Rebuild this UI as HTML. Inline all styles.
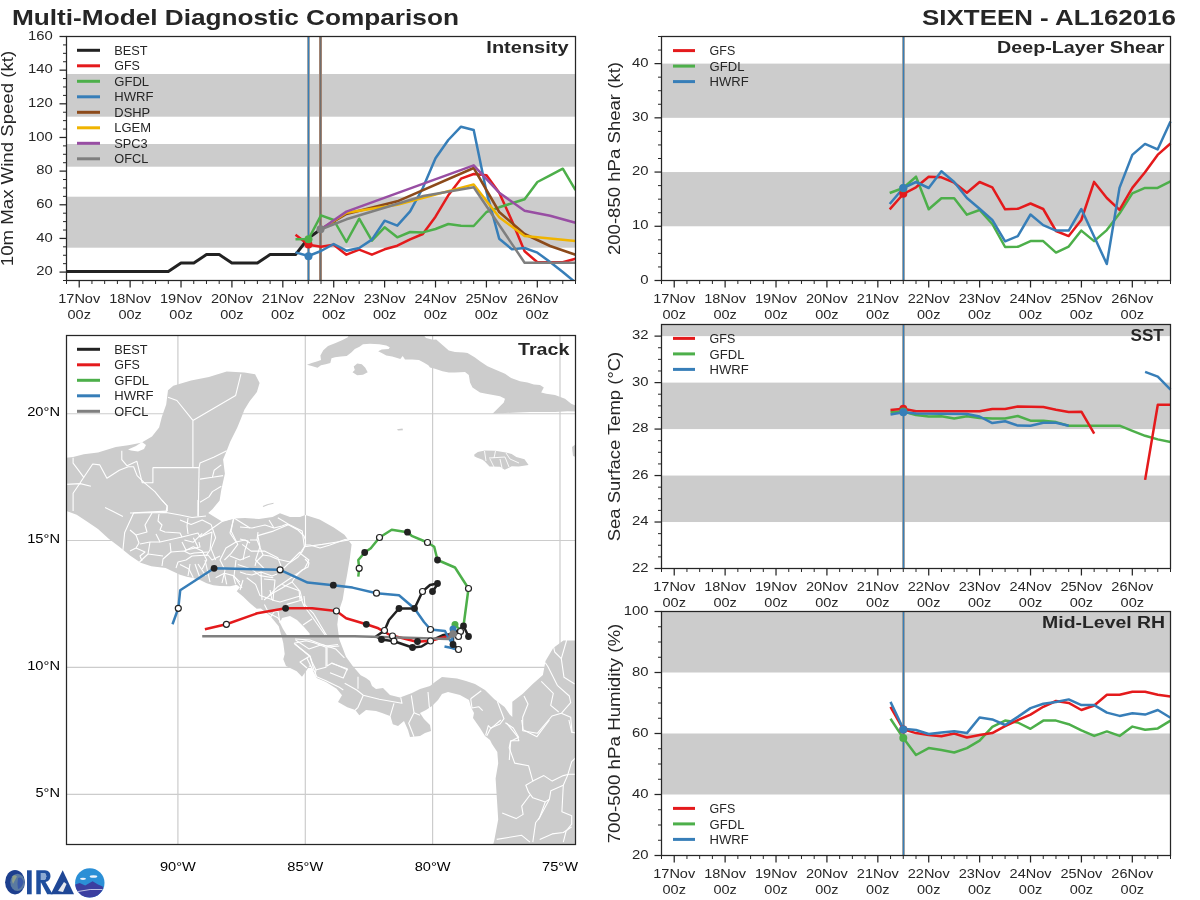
<!DOCTYPE html>
<html><head><meta charset="utf-8"><style>
html,body{margin:0;padding:0;background:#fff;width:1200px;height:900px;overflow:hidden}
svg{display:block;will-change:transform;font-family:"Liberation Sans",sans-serif}
</style></head><body>
<svg width="1200" height="900" viewBox="0 0 1200 900">
<rect width="1200" height="900" fill="#ffffff"/>
<rect x="66.50" y="74.00" width="509.00" height="42.70" fill="#cccccc"/>
<rect x="66.50" y="144.00" width="509.00" height="22.70" fill="#cccccc"/>
<rect x="66.50" y="196.70" width="509.00" height="51.00" fill="#cccccc"/>
<line x1="308.50" y1="36.50" x2="308.50" y2="280.50" stroke="#a89a8c" stroke-width="2.6"/>
<line x1="308.50" y1="36.50" x2="308.50" y2="280.50" stroke="#377eb8" stroke-width="1.4"/>
<line x1="320.50" y1="36.50" x2="320.50" y2="280.50" stroke="#a58574" stroke-width="3.0"/>
<line x1="320.50" y1="36.50" x2="320.50" y2="280.50" stroke="#6f6f6f" stroke-width="1.2"/>
<polyline points="66.5,271.4 168.3,271.4 181.0,263.0 193.8,263.0 206.5,254.6 219.2,254.6 231.9,263.0 244.6,263.0 257.4,263.0 270.1,254.6 282.8,254.6 295.5,254.6 308.5,238.0 320.5,229.5" fill="none" stroke="#222222" stroke-width="3.0" stroke-linejoin="round" stroke-linecap="butt"/>
<clipPath id="ci"><rect x="66.5" y="36.5" width="509" height="244.0"/></clipPath>
<g clip-path="url(#ci)">
<polyline points="295.5,234.7 308.5,244.7 321.0,246.7 333.7,244.7 346.4,254.7 359.2,249.7 371.9,254.7 384.6,249.3 397.3,245.7 410.1,239.3 422.8,234.0 435.5,216.7 448.3,195.3 461.0,178.7 473.7,174.0 486.5,175.3 499.2,192.7 511.9,220.7 524.6,251.3 537.4,262.3 550.1,262.3 562.8,262.3 575.5,258.7" fill="none" stroke="#e41a1c" stroke-width="2.5" stroke-linejoin="round" stroke-linecap="butt"/>
<polyline points="295.5,239.3 308.5,239.0 321.0,215.3 333.7,220.0 346.4,242.0 359.2,218.7 371.9,240.7 384.6,227.3 397.3,237.3 410.1,232.0 422.8,232.4 435.5,229.0 448.3,224.0 461.0,225.7 473.7,226.0 486.5,212.0 499.2,207.3 511.9,203.3 524.6,199.3 537.4,182.0 550.1,175.3 562.8,168.7 575.5,190.0" fill="none" stroke="#4daf4a" stroke-width="2.5" stroke-linejoin="round" stroke-linecap="butt"/>
<polyline points="295.5,252.4 308.5,256.0 321.0,251.0 333.7,244.0 346.4,250.7 359.2,248.0 371.9,239.6 384.6,220.7 397.3,225.7 410.1,211.3 422.8,188.0 435.5,158.3 448.3,140.0 461.0,126.7 473.7,130.0 486.5,192.0 499.2,238.7 511.9,249.3 524.6,248.0 537.4,252.7 550.1,262.0 562.8,272.0 575.5,282.5" fill="none" stroke="#377eb8" stroke-width="2.5" stroke-linejoin="round" stroke-linecap="butt"/>
<polyline points="320.5,229.5 346.4,214.0 397.3,201.3 473.7,168.0 499.2,212.0 524.6,234.0 550.1,246.0 575.5,254.7" fill="none" stroke="#8c4a1a" stroke-width="2.5" stroke-linejoin="round" stroke-linecap="butt"/>
<polyline points="320.5,229.5 346.4,212.7 397.3,204.7 473.7,184.4 499.2,217.3 524.6,236.0 575.5,241.0" fill="none" stroke="#f0b400" stroke-width="2.5" stroke-linejoin="round" stroke-linecap="butt"/>
<polyline points="320.5,229.5 346.4,211.6 473.7,165.3 499.2,192.7 524.6,210.7 550.1,215.8 575.5,222.7" fill="none" stroke="#984ea3" stroke-width="2.5" stroke-linejoin="round" stroke-linecap="butt"/>
<polyline points="320.5,229.5 346.4,219.3 423.3,196.0 473.7,187.3 524.6,262.7 575.5,262.7" fill="none" stroke="#7f7f7f" stroke-width="2.5" stroke-linejoin="round" stroke-linecap="butt"/>
</g>
<circle cx="308.50" cy="244.60" r="4" fill="#e41a1c" stroke="none" stroke-width="0"/>
<circle cx="308.50" cy="239.30" r="4" fill="#4daf4a" stroke="none" stroke-width="0"/>
<circle cx="308.50" cy="256.30" r="4" fill="#377eb8" stroke="none" stroke-width="0"/>
<circle cx="320.50" cy="229.30" r="4" fill="#7f7f7f" stroke="none" stroke-width="0"/>
<line x1="77.00" y1="50.30" x2="100.00" y2="50.30" stroke="#222222" stroke-width="3"/>
<text x="114.30" y="54.90" font-size="13" text-anchor="start" textLength="33.3" lengthAdjust="spacingAndGlyphs" fill="#262626">BEST</text>
<line x1="77.00" y1="65.80" x2="100.00" y2="65.80" stroke="#e41a1c" stroke-width="3"/>
<text x="114.30" y="70.40" font-size="13" text-anchor="start" textLength="25.6" lengthAdjust="spacingAndGlyphs" fill="#262626">GFS</text>
<line x1="77.00" y1="81.30" x2="100.00" y2="81.30" stroke="#4daf4a" stroke-width="3"/>
<text x="114.30" y="85.90" font-size="13" text-anchor="start" textLength="34.8" lengthAdjust="spacingAndGlyphs" fill="#262626">GFDL</text>
<line x1="77.00" y1="96.80" x2="100.00" y2="96.80" stroke="#377eb8" stroke-width="3"/>
<text x="114.30" y="101.40" font-size="13" text-anchor="start" textLength="39.2" lengthAdjust="spacingAndGlyphs" fill="#262626">HWRF</text>
<line x1="77.00" y1="112.30" x2="100.00" y2="112.30" stroke="#8c4a1a" stroke-width="3"/>
<text x="114.30" y="116.90" font-size="13" text-anchor="start" textLength="35.9" lengthAdjust="spacingAndGlyphs" fill="#262626">DSHP</text>
<line x1="77.00" y1="127.80" x2="100.00" y2="127.80" stroke="#f0b400" stroke-width="3"/>
<text x="114.30" y="132.40" font-size="13" text-anchor="start" textLength="36.8" lengthAdjust="spacingAndGlyphs" fill="#262626">LGEM</text>
<line x1="77.00" y1="143.30" x2="100.00" y2="143.30" stroke="#984ea3" stroke-width="3"/>
<text x="114.30" y="147.90" font-size="13" text-anchor="start" textLength="33.4" lengthAdjust="spacingAndGlyphs" fill="#262626">SPC3</text>
<line x1="77.00" y1="158.80" x2="100.00" y2="158.80" stroke="#7f7f7f" stroke-width="3"/>
<text x="114.30" y="163.40" font-size="13" text-anchor="start" textLength="34.0" lengthAdjust="spacingAndGlyphs" fill="#262626">OFCL</text>
<text x="568.55" y="53.10" font-size="16" text-anchor="end" font-weight="bold" textLength="82.2" lengthAdjust="spacingAndGlyphs" fill="#262626">Intensity</text>
<rect x="66.5" y="36.5" width="509.0" height="244.0" fill="none" stroke="#262626" stroke-width="1.25"/>
<line x1="59.50" y1="272.09" x2="66.50" y2="272.09" stroke="#262626" stroke-width="1.25"/>
<text x="52.80" y="275.19" font-size="13" text-anchor="end" textLength="16.5" lengthAdjust="spacingAndGlyphs" fill="#262626">20</text>
<line x1="59.50" y1="238.43" x2="66.50" y2="238.43" stroke="#262626" stroke-width="1.25"/>
<text x="52.80" y="241.53" font-size="13" text-anchor="end" textLength="16.5" lengthAdjust="spacingAndGlyphs" fill="#262626">40</text>
<line x1="59.50" y1="204.78" x2="66.50" y2="204.78" stroke="#262626" stroke-width="1.25"/>
<text x="52.80" y="207.88" font-size="13" text-anchor="end" textLength="16.5" lengthAdjust="spacingAndGlyphs" fill="#262626">60</text>
<line x1="59.50" y1="171.12" x2="66.50" y2="171.12" stroke="#262626" stroke-width="1.25"/>
<text x="52.80" y="174.22" font-size="13" text-anchor="end" textLength="16.5" lengthAdjust="spacingAndGlyphs" fill="#262626">80</text>
<line x1="59.50" y1="137.47" x2="66.50" y2="137.47" stroke="#262626" stroke-width="1.25"/>
<text x="52.80" y="140.57" font-size="13" text-anchor="end" textLength="24.8" lengthAdjust="spacingAndGlyphs" fill="#262626">100</text>
<line x1="59.50" y1="103.81" x2="66.50" y2="103.81" stroke="#262626" stroke-width="1.25"/>
<text x="52.80" y="106.91" font-size="13" text-anchor="end" textLength="24.8" lengthAdjust="spacingAndGlyphs" fill="#262626">120</text>
<line x1="59.50" y1="70.16" x2="66.50" y2="70.16" stroke="#262626" stroke-width="1.25"/>
<text x="52.80" y="73.26" font-size="13" text-anchor="end" textLength="24.8" lengthAdjust="spacingAndGlyphs" fill="#262626">140</text>
<line x1="59.50" y1="36.50" x2="66.50" y2="36.50" stroke="#262626" stroke-width="1.25"/>
<text x="52.80" y="39.60" font-size="13" text-anchor="end" textLength="24.8" lengthAdjust="spacingAndGlyphs" fill="#262626">160</text>
<line x1="63.00" y1="280.50" x2="66.50" y2="280.50" stroke="#262626" stroke-width="1.0"/>
<line x1="63.00" y1="263.67" x2="66.50" y2="263.67" stroke="#262626" stroke-width="1.0"/>
<line x1="63.00" y1="255.26" x2="66.50" y2="255.26" stroke="#262626" stroke-width="1.0"/>
<line x1="63.00" y1="246.84" x2="66.50" y2="246.84" stroke="#262626" stroke-width="1.0"/>
<line x1="63.00" y1="230.02" x2="66.50" y2="230.02" stroke="#262626" stroke-width="1.0"/>
<line x1="63.00" y1="221.60" x2="66.50" y2="221.60" stroke="#262626" stroke-width="1.0"/>
<line x1="63.00" y1="213.19" x2="66.50" y2="213.19" stroke="#262626" stroke-width="1.0"/>
<line x1="63.00" y1="196.36" x2="66.50" y2="196.36" stroke="#262626" stroke-width="1.0"/>
<line x1="63.00" y1="187.95" x2="66.50" y2="187.95" stroke="#262626" stroke-width="1.0"/>
<line x1="63.00" y1="179.53" x2="66.50" y2="179.53" stroke="#262626" stroke-width="1.0"/>
<line x1="63.00" y1="162.71" x2="66.50" y2="162.71" stroke="#262626" stroke-width="1.0"/>
<line x1="63.00" y1="154.29" x2="66.50" y2="154.29" stroke="#262626" stroke-width="1.0"/>
<line x1="63.00" y1="145.88" x2="66.50" y2="145.88" stroke="#262626" stroke-width="1.0"/>
<line x1="63.00" y1="129.05" x2="66.50" y2="129.05" stroke="#262626" stroke-width="1.0"/>
<line x1="63.00" y1="120.64" x2="66.50" y2="120.64" stroke="#262626" stroke-width="1.0"/>
<line x1="63.00" y1="112.22" x2="66.50" y2="112.22" stroke="#262626" stroke-width="1.0"/>
<line x1="63.00" y1="95.40" x2="66.50" y2="95.40" stroke="#262626" stroke-width="1.0"/>
<line x1="63.00" y1="86.98" x2="66.50" y2="86.98" stroke="#262626" stroke-width="1.0"/>
<line x1="63.00" y1="78.57" x2="66.50" y2="78.57" stroke="#262626" stroke-width="1.0"/>
<line x1="63.00" y1="61.74" x2="66.50" y2="61.74" stroke="#262626" stroke-width="1.0"/>
<line x1="63.00" y1="53.33" x2="66.50" y2="53.33" stroke="#262626" stroke-width="1.0"/>
<line x1="63.00" y1="44.91" x2="66.50" y2="44.91" stroke="#262626" stroke-width="1.0"/>
<line x1="66.50" y1="280.50" x2="66.50" y2="284.00" stroke="#262626" stroke-width="1.0"/>
<line x1="79.22" y1="280.50" x2="79.22" y2="287.50" stroke="#262626" stroke-width="1.25"/>
<line x1="91.95" y1="280.50" x2="91.95" y2="284.00" stroke="#262626" stroke-width="1.0"/>
<line x1="104.67" y1="280.50" x2="104.67" y2="284.00" stroke="#262626" stroke-width="1.0"/>
<line x1="117.40" y1="280.50" x2="117.40" y2="284.00" stroke="#262626" stroke-width="1.0"/>
<line x1="130.12" y1="280.50" x2="130.12" y2="287.50" stroke="#262626" stroke-width="1.25"/>
<line x1="142.85" y1="280.50" x2="142.85" y2="284.00" stroke="#262626" stroke-width="1.0"/>
<line x1="155.57" y1="280.50" x2="155.57" y2="284.00" stroke="#262626" stroke-width="1.0"/>
<line x1="168.30" y1="280.50" x2="168.30" y2="284.00" stroke="#262626" stroke-width="1.0"/>
<line x1="181.02" y1="280.50" x2="181.02" y2="287.50" stroke="#262626" stroke-width="1.25"/>
<line x1="193.75" y1="280.50" x2="193.75" y2="284.00" stroke="#262626" stroke-width="1.0"/>
<line x1="206.47" y1="280.50" x2="206.47" y2="284.00" stroke="#262626" stroke-width="1.0"/>
<line x1="219.20" y1="280.50" x2="219.20" y2="284.00" stroke="#262626" stroke-width="1.0"/>
<line x1="231.92" y1="280.50" x2="231.92" y2="287.50" stroke="#262626" stroke-width="1.25"/>
<line x1="244.65" y1="280.50" x2="244.65" y2="284.00" stroke="#262626" stroke-width="1.0"/>
<line x1="257.38" y1="280.50" x2="257.38" y2="284.00" stroke="#262626" stroke-width="1.0"/>
<line x1="270.10" y1="280.50" x2="270.10" y2="284.00" stroke="#262626" stroke-width="1.0"/>
<line x1="282.82" y1="280.50" x2="282.82" y2="287.50" stroke="#262626" stroke-width="1.25"/>
<line x1="295.55" y1="280.50" x2="295.55" y2="284.00" stroke="#262626" stroke-width="1.0"/>
<line x1="308.27" y1="280.50" x2="308.27" y2="284.00" stroke="#262626" stroke-width="1.0"/>
<line x1="321.00" y1="280.50" x2="321.00" y2="284.00" stroke="#262626" stroke-width="1.0"/>
<line x1="333.72" y1="280.50" x2="333.72" y2="287.50" stroke="#262626" stroke-width="1.25"/>
<line x1="346.45" y1="280.50" x2="346.45" y2="284.00" stroke="#262626" stroke-width="1.0"/>
<line x1="359.17" y1="280.50" x2="359.17" y2="284.00" stroke="#262626" stroke-width="1.0"/>
<line x1="371.90" y1="280.50" x2="371.90" y2="284.00" stroke="#262626" stroke-width="1.0"/>
<line x1="384.62" y1="280.50" x2="384.62" y2="287.50" stroke="#262626" stroke-width="1.25"/>
<line x1="397.35" y1="280.50" x2="397.35" y2="284.00" stroke="#262626" stroke-width="1.0"/>
<line x1="410.07" y1="280.50" x2="410.07" y2="284.00" stroke="#262626" stroke-width="1.0"/>
<line x1="422.80" y1="280.50" x2="422.80" y2="284.00" stroke="#262626" stroke-width="1.0"/>
<line x1="435.52" y1="280.50" x2="435.52" y2="287.50" stroke="#262626" stroke-width="1.25"/>
<line x1="448.25" y1="280.50" x2="448.25" y2="284.00" stroke="#262626" stroke-width="1.0"/>
<line x1="460.97" y1="280.50" x2="460.97" y2="284.00" stroke="#262626" stroke-width="1.0"/>
<line x1="473.70" y1="280.50" x2="473.70" y2="284.00" stroke="#262626" stroke-width="1.0"/>
<line x1="486.42" y1="280.50" x2="486.42" y2="287.50" stroke="#262626" stroke-width="1.25"/>
<line x1="499.15" y1="280.50" x2="499.15" y2="284.00" stroke="#262626" stroke-width="1.0"/>
<line x1="511.87" y1="280.50" x2="511.87" y2="284.00" stroke="#262626" stroke-width="1.0"/>
<line x1="524.60" y1="280.50" x2="524.60" y2="284.00" stroke="#262626" stroke-width="1.0"/>
<line x1="537.32" y1="280.50" x2="537.32" y2="287.50" stroke="#262626" stroke-width="1.25"/>
<line x1="550.05" y1="280.50" x2="550.05" y2="284.00" stroke="#262626" stroke-width="1.0"/>
<line x1="562.77" y1="280.50" x2="562.77" y2="284.00" stroke="#262626" stroke-width="1.0"/>
<line x1="575.50" y1="280.50" x2="575.50" y2="284.00" stroke="#262626" stroke-width="1.0"/>
<text x="79.22" y="303.10" font-size="13" text-anchor="middle" textLength="41.9" lengthAdjust="spacingAndGlyphs" fill="#262626">17Nov</text>
<text x="79.22" y="319.10" font-size="13" text-anchor="middle" textLength="23.4" lengthAdjust="spacingAndGlyphs" fill="#262626">00z</text>
<text x="130.12" y="303.10" font-size="13" text-anchor="middle" textLength="41.9" lengthAdjust="spacingAndGlyphs" fill="#262626">18Nov</text>
<text x="130.12" y="319.10" font-size="13" text-anchor="middle" textLength="23.4" lengthAdjust="spacingAndGlyphs" fill="#262626">00z</text>
<text x="181.02" y="303.10" font-size="13" text-anchor="middle" textLength="41.9" lengthAdjust="spacingAndGlyphs" fill="#262626">19Nov</text>
<text x="181.02" y="319.10" font-size="13" text-anchor="middle" textLength="23.4" lengthAdjust="spacingAndGlyphs" fill="#262626">00z</text>
<text x="231.92" y="303.10" font-size="13" text-anchor="middle" textLength="41.9" lengthAdjust="spacingAndGlyphs" fill="#262626">20Nov</text>
<text x="231.92" y="319.10" font-size="13" text-anchor="middle" textLength="23.4" lengthAdjust="spacingAndGlyphs" fill="#262626">00z</text>
<text x="282.82" y="303.10" font-size="13" text-anchor="middle" textLength="41.9" lengthAdjust="spacingAndGlyphs" fill="#262626">21Nov</text>
<text x="282.82" y="319.10" font-size="13" text-anchor="middle" textLength="23.4" lengthAdjust="spacingAndGlyphs" fill="#262626">00z</text>
<text x="333.72" y="303.10" font-size="13" text-anchor="middle" textLength="41.9" lengthAdjust="spacingAndGlyphs" fill="#262626">22Nov</text>
<text x="333.72" y="319.10" font-size="13" text-anchor="middle" textLength="23.4" lengthAdjust="spacingAndGlyphs" fill="#262626">00z</text>
<text x="384.62" y="303.10" font-size="13" text-anchor="middle" textLength="41.9" lengthAdjust="spacingAndGlyphs" fill="#262626">23Nov</text>
<text x="384.62" y="319.10" font-size="13" text-anchor="middle" textLength="23.4" lengthAdjust="spacingAndGlyphs" fill="#262626">00z</text>
<text x="435.52" y="303.10" font-size="13" text-anchor="middle" textLength="41.9" lengthAdjust="spacingAndGlyphs" fill="#262626">24Nov</text>
<text x="435.52" y="319.10" font-size="13" text-anchor="middle" textLength="23.4" lengthAdjust="spacingAndGlyphs" fill="#262626">00z</text>
<text x="486.42" y="303.10" font-size="13" text-anchor="middle" textLength="41.9" lengthAdjust="spacingAndGlyphs" fill="#262626">25Nov</text>
<text x="486.42" y="319.10" font-size="13" text-anchor="middle" textLength="23.4" lengthAdjust="spacingAndGlyphs" fill="#262626">00z</text>
<text x="537.32" y="303.10" font-size="13" text-anchor="middle" textLength="41.9" lengthAdjust="spacingAndGlyphs" fill="#262626">26Nov</text>
<text x="537.32" y="319.10" font-size="13" text-anchor="middle" textLength="23.4" lengthAdjust="spacingAndGlyphs" fill="#262626">00z</text>
<text x="13.30" y="158.50" font-size="17" text-anchor="middle" textLength="215.3" lengthAdjust="spacingAndGlyphs" transform="rotate(-90 13.30 158.50)" fill="#262626">10m Max Wind Speed (kt)</text>
<rect x="661.50" y="63.61" width="509.00" height="54.22" fill="#cccccc"/>
<rect x="661.50" y="172.06" width="509.00" height="54.22" fill="#cccccc"/>
<line x1="903.50" y1="36.50" x2="903.50" y2="280.50" stroke="#a89a8c" stroke-width="2.6"/>
<line x1="903.50" y1="36.50" x2="903.50" y2="280.50" stroke="#377eb8" stroke-width="1.4"/>
<polyline points="889.7,193.0 903.3,188.0 916.0,176.7 928.7,209.3 941.4,198.3 954.2,198.3 966.9,214.7 979.6,210.0 992.3,224.0 1005.1,247.0 1017.8,246.8 1030.5,241.1 1043.2,241.1 1056.0,252.6 1068.7,246.6 1081.3,230.6 1094.1,241.1 1106.8,230.1 1119.5,213.6 1132.3,193.4 1145.0,187.9 1157.6,187.9 1170.5,181.3" fill="none" stroke="#4daf4a" stroke-width="2.5" stroke-linejoin="round" stroke-linecap="butt"/>
<polyline points="889.7,209.3 903.3,194.0 916.0,187.3 928.7,176.7 941.4,177.3 954.2,182.7 966.9,192.7 979.6,182.0 992.3,187.3 1005.1,209.3 1017.8,208.8 1030.5,203.5 1043.2,209.0 1056.0,231.0 1068.7,236.1 1081.3,220.0 1094.1,181.9 1106.8,198.0 1119.5,209.9 1132.3,187.9 1145.0,172.3 1157.6,154.9 1170.5,143.5" fill="none" stroke="#e41a1c" stroke-width="2.5" stroke-linejoin="round" stroke-linecap="butt"/>
<polyline points="889.7,204.0 903.3,188.0 916.0,182.0 928.7,188.0 941.4,171.3 954.2,182.0 966.9,198.0 979.6,208.7 992.3,220.0 1005.1,241.3 1017.8,236.1 1030.5,214.5 1043.2,225.1 1056.0,230.6 1068.7,230.6 1081.3,209.0 1094.1,236.5 1106.8,264.0 1119.5,187.9 1132.3,154.9 1145.0,143.9 1157.6,149.4 1170.5,121.5" fill="none" stroke="#377eb8" stroke-width="2.5" stroke-linejoin="round" stroke-linecap="butt"/>
<circle cx="903.30" cy="193.80" r="4" fill="#e41a1c" stroke="none" stroke-width="0"/>
<circle cx="903.30" cy="188.30" r="4" fill="#4daf4a" stroke="none" stroke-width="0"/>
<circle cx="903.30" cy="188.00" r="4" fill="#377eb8" stroke="none" stroke-width="0"/>
<line x1="673.00" y1="50.60" x2="695.00" y2="50.60" stroke="#e41a1c" stroke-width="3"/>
<text x="709.60" y="55.20" font-size="13" text-anchor="start" textLength="25.6" lengthAdjust="spacingAndGlyphs" fill="#262626">GFS</text>
<line x1="673.00" y1="66.10" x2="695.00" y2="66.10" stroke="#4daf4a" stroke-width="3"/>
<text x="709.60" y="70.70" font-size="13" text-anchor="start" textLength="34.8" lengthAdjust="spacingAndGlyphs" fill="#262626">GFDL</text>
<line x1="673.00" y1="81.60" x2="695.00" y2="81.60" stroke="#377eb8" stroke-width="3"/>
<text x="709.60" y="86.20" font-size="13" text-anchor="start" textLength="39.2" lengthAdjust="spacingAndGlyphs" fill="#262626">HWRF</text>
<text x="1164.50" y="53.10" font-size="16" text-anchor="end" font-weight="bold" textLength="167.4" lengthAdjust="spacingAndGlyphs" fill="#262626">Deep-Layer Shear</text>
<rect x="661.5" y="36.5" width="509.0" height="244.0" fill="none" stroke="#262626" stroke-width="1.25"/>
<line x1="654.50" y1="280.50" x2="661.50" y2="280.50" stroke="#262626" stroke-width="1.25"/>
<text x="648.60" y="283.60" font-size="13" text-anchor="end" textLength="8.3" lengthAdjust="spacingAndGlyphs" fill="#262626">0</text>
<line x1="654.50" y1="226.28" x2="661.50" y2="226.28" stroke="#262626" stroke-width="1.25"/>
<text x="648.60" y="229.38" font-size="13" text-anchor="end" textLength="16.5" lengthAdjust="spacingAndGlyphs" fill="#262626">10</text>
<line x1="654.50" y1="172.06" x2="661.50" y2="172.06" stroke="#262626" stroke-width="1.25"/>
<text x="648.60" y="175.16" font-size="13" text-anchor="end" textLength="16.5" lengthAdjust="spacingAndGlyphs" fill="#262626">20</text>
<line x1="654.50" y1="117.83" x2="661.50" y2="117.83" stroke="#262626" stroke-width="1.25"/>
<text x="648.60" y="120.93" font-size="13" text-anchor="end" textLength="16.5" lengthAdjust="spacingAndGlyphs" fill="#262626">30</text>
<line x1="654.50" y1="63.61" x2="661.50" y2="63.61" stroke="#262626" stroke-width="1.25"/>
<text x="648.60" y="66.71" font-size="13" text-anchor="end" textLength="16.5" lengthAdjust="spacingAndGlyphs" fill="#262626">40</text>
<line x1="658.00" y1="266.94" x2="661.50" y2="266.94" stroke="#262626" stroke-width="1.0"/>
<line x1="658.00" y1="253.39" x2="661.50" y2="253.39" stroke="#262626" stroke-width="1.0"/>
<line x1="658.00" y1="239.83" x2="661.50" y2="239.83" stroke="#262626" stroke-width="1.0"/>
<line x1="658.00" y1="212.72" x2="661.50" y2="212.72" stroke="#262626" stroke-width="1.0"/>
<line x1="658.00" y1="199.17" x2="661.50" y2="199.17" stroke="#262626" stroke-width="1.0"/>
<line x1="658.00" y1="185.61" x2="661.50" y2="185.61" stroke="#262626" stroke-width="1.0"/>
<line x1="658.00" y1="158.50" x2="661.50" y2="158.50" stroke="#262626" stroke-width="1.0"/>
<line x1="658.00" y1="144.94" x2="661.50" y2="144.94" stroke="#262626" stroke-width="1.0"/>
<line x1="658.00" y1="131.39" x2="661.50" y2="131.39" stroke="#262626" stroke-width="1.0"/>
<line x1="658.00" y1="104.28" x2="661.50" y2="104.28" stroke="#262626" stroke-width="1.0"/>
<line x1="658.00" y1="90.72" x2="661.50" y2="90.72" stroke="#262626" stroke-width="1.0"/>
<line x1="658.00" y1="77.17" x2="661.50" y2="77.17" stroke="#262626" stroke-width="1.0"/>
<line x1="658.00" y1="50.06" x2="661.50" y2="50.06" stroke="#262626" stroke-width="1.0"/>
<line x1="658.00" y1="36.50" x2="661.50" y2="36.50" stroke="#262626" stroke-width="1.0"/>
<line x1="661.50" y1="280.50" x2="661.50" y2="284.00" stroke="#262626" stroke-width="1.0"/>
<line x1="674.23" y1="280.50" x2="674.23" y2="287.50" stroke="#262626" stroke-width="1.25"/>
<line x1="686.95" y1="280.50" x2="686.95" y2="284.00" stroke="#262626" stroke-width="1.0"/>
<line x1="699.67" y1="280.50" x2="699.67" y2="284.00" stroke="#262626" stroke-width="1.0"/>
<line x1="712.40" y1="280.50" x2="712.40" y2="284.00" stroke="#262626" stroke-width="1.0"/>
<line x1="725.12" y1="280.50" x2="725.12" y2="287.50" stroke="#262626" stroke-width="1.25"/>
<line x1="737.85" y1="280.50" x2="737.85" y2="284.00" stroke="#262626" stroke-width="1.0"/>
<line x1="750.58" y1="280.50" x2="750.58" y2="284.00" stroke="#262626" stroke-width="1.0"/>
<line x1="763.30" y1="280.50" x2="763.30" y2="284.00" stroke="#262626" stroke-width="1.0"/>
<line x1="776.02" y1="280.50" x2="776.02" y2="287.50" stroke="#262626" stroke-width="1.25"/>
<line x1="788.75" y1="280.50" x2="788.75" y2="284.00" stroke="#262626" stroke-width="1.0"/>
<line x1="801.48" y1="280.50" x2="801.48" y2="284.00" stroke="#262626" stroke-width="1.0"/>
<line x1="814.20" y1="280.50" x2="814.20" y2="284.00" stroke="#262626" stroke-width="1.0"/>
<line x1="826.92" y1="280.50" x2="826.92" y2="287.50" stroke="#262626" stroke-width="1.25"/>
<line x1="839.65" y1="280.50" x2="839.65" y2="284.00" stroke="#262626" stroke-width="1.0"/>
<line x1="852.38" y1="280.50" x2="852.38" y2="284.00" stroke="#262626" stroke-width="1.0"/>
<line x1="865.10" y1="280.50" x2="865.10" y2="284.00" stroke="#262626" stroke-width="1.0"/>
<line x1="877.83" y1="280.50" x2="877.83" y2="287.50" stroke="#262626" stroke-width="1.25"/>
<line x1="890.55" y1="280.50" x2="890.55" y2="284.00" stroke="#262626" stroke-width="1.0"/>
<line x1="903.27" y1="280.50" x2="903.27" y2="284.00" stroke="#262626" stroke-width="1.0"/>
<line x1="916.00" y1="280.50" x2="916.00" y2="284.00" stroke="#262626" stroke-width="1.0"/>
<line x1="928.72" y1="280.50" x2="928.72" y2="287.50" stroke="#262626" stroke-width="1.25"/>
<line x1="941.45" y1="280.50" x2="941.45" y2="284.00" stroke="#262626" stroke-width="1.0"/>
<line x1="954.17" y1="280.50" x2="954.17" y2="284.00" stroke="#262626" stroke-width="1.0"/>
<line x1="966.90" y1="280.50" x2="966.90" y2="284.00" stroke="#262626" stroke-width="1.0"/>
<line x1="979.62" y1="280.50" x2="979.62" y2="287.50" stroke="#262626" stroke-width="1.25"/>
<line x1="992.35" y1="280.50" x2="992.35" y2="284.00" stroke="#262626" stroke-width="1.0"/>
<line x1="1005.08" y1="280.50" x2="1005.08" y2="284.00" stroke="#262626" stroke-width="1.0"/>
<line x1="1017.80" y1="280.50" x2="1017.80" y2="284.00" stroke="#262626" stroke-width="1.0"/>
<line x1="1030.53" y1="280.50" x2="1030.53" y2="287.50" stroke="#262626" stroke-width="1.25"/>
<line x1="1043.25" y1="280.50" x2="1043.25" y2="284.00" stroke="#262626" stroke-width="1.0"/>
<line x1="1055.97" y1="280.50" x2="1055.97" y2="284.00" stroke="#262626" stroke-width="1.0"/>
<line x1="1068.70" y1="280.50" x2="1068.70" y2="284.00" stroke="#262626" stroke-width="1.0"/>
<line x1="1081.42" y1="280.50" x2="1081.42" y2="287.50" stroke="#262626" stroke-width="1.25"/>
<line x1="1094.15" y1="280.50" x2="1094.15" y2="284.00" stroke="#262626" stroke-width="1.0"/>
<line x1="1106.88" y1="280.50" x2="1106.88" y2="284.00" stroke="#262626" stroke-width="1.0"/>
<line x1="1119.60" y1="280.50" x2="1119.60" y2="284.00" stroke="#262626" stroke-width="1.0"/>
<line x1="1132.32" y1="280.50" x2="1132.32" y2="287.50" stroke="#262626" stroke-width="1.25"/>
<line x1="1145.05" y1="280.50" x2="1145.05" y2="284.00" stroke="#262626" stroke-width="1.0"/>
<line x1="1157.78" y1="280.50" x2="1157.78" y2="284.00" stroke="#262626" stroke-width="1.0"/>
<line x1="1170.50" y1="280.50" x2="1170.50" y2="284.00" stroke="#262626" stroke-width="1.0"/>
<text x="674.23" y="303.10" font-size="13" text-anchor="middle" textLength="41.9" lengthAdjust="spacingAndGlyphs" fill="#262626">17Nov</text>
<text x="674.23" y="319.10" font-size="13" text-anchor="middle" textLength="23.4" lengthAdjust="spacingAndGlyphs" fill="#262626">00z</text>
<text x="725.12" y="303.10" font-size="13" text-anchor="middle" textLength="41.9" lengthAdjust="spacingAndGlyphs" fill="#262626">18Nov</text>
<text x="725.12" y="319.10" font-size="13" text-anchor="middle" textLength="23.4" lengthAdjust="spacingAndGlyphs" fill="#262626">00z</text>
<text x="776.02" y="303.10" font-size="13" text-anchor="middle" textLength="41.9" lengthAdjust="spacingAndGlyphs" fill="#262626">19Nov</text>
<text x="776.02" y="319.10" font-size="13" text-anchor="middle" textLength="23.4" lengthAdjust="spacingAndGlyphs" fill="#262626">00z</text>
<text x="826.92" y="303.10" font-size="13" text-anchor="middle" textLength="41.9" lengthAdjust="spacingAndGlyphs" fill="#262626">20Nov</text>
<text x="826.92" y="319.10" font-size="13" text-anchor="middle" textLength="23.4" lengthAdjust="spacingAndGlyphs" fill="#262626">00z</text>
<text x="877.83" y="303.10" font-size="13" text-anchor="middle" textLength="41.9" lengthAdjust="spacingAndGlyphs" fill="#262626">21Nov</text>
<text x="877.83" y="319.10" font-size="13" text-anchor="middle" textLength="23.4" lengthAdjust="spacingAndGlyphs" fill="#262626">00z</text>
<text x="928.72" y="303.10" font-size="13" text-anchor="middle" textLength="41.9" lengthAdjust="spacingAndGlyphs" fill="#262626">22Nov</text>
<text x="928.72" y="319.10" font-size="13" text-anchor="middle" textLength="23.4" lengthAdjust="spacingAndGlyphs" fill="#262626">00z</text>
<text x="979.62" y="303.10" font-size="13" text-anchor="middle" textLength="41.9" lengthAdjust="spacingAndGlyphs" fill="#262626">23Nov</text>
<text x="979.62" y="319.10" font-size="13" text-anchor="middle" textLength="23.4" lengthAdjust="spacingAndGlyphs" fill="#262626">00z</text>
<text x="1030.53" y="303.10" font-size="13" text-anchor="middle" textLength="41.9" lengthAdjust="spacingAndGlyphs" fill="#262626">24Nov</text>
<text x="1030.53" y="319.10" font-size="13" text-anchor="middle" textLength="23.4" lengthAdjust="spacingAndGlyphs" fill="#262626">00z</text>
<text x="1081.42" y="303.10" font-size="13" text-anchor="middle" textLength="41.9" lengthAdjust="spacingAndGlyphs" fill="#262626">25Nov</text>
<text x="1081.42" y="319.10" font-size="13" text-anchor="middle" textLength="23.4" lengthAdjust="spacingAndGlyphs" fill="#262626">00z</text>
<text x="1132.32" y="303.10" font-size="13" text-anchor="middle" textLength="41.9" lengthAdjust="spacingAndGlyphs" fill="#262626">26Nov</text>
<text x="1132.32" y="319.10" font-size="13" text-anchor="middle" textLength="23.4" lengthAdjust="spacingAndGlyphs" fill="#262626">00z</text>
<text x="620.20" y="158.50" font-size="17" text-anchor="middle" textLength="193.1" lengthAdjust="spacingAndGlyphs" transform="rotate(-90 620.20 158.50)" fill="#262626">200-850 hPa Shear (kt)</text>
<rect x="661.50" y="324.50" width="509.00" height="11.62" fill="#cccccc"/>
<rect x="661.50" y="382.60" width="509.00" height="46.48" fill="#cccccc"/>
<rect x="661.50" y="475.55" width="509.00" height="46.48" fill="#cccccc"/>
<line x1="903.50" y1="324.50" x2="903.50" y2="568.50" stroke="#a89a8c" stroke-width="2.6"/>
<line x1="903.50" y1="324.50" x2="903.50" y2="568.50" stroke="#377eb8" stroke-width="1.4"/>
<polyline points="890.5,411.9 903.3,411.5 916.0,415.0 928.7,416.5 941.4,416.2 954.2,418.5 966.9,416.2 979.6,418.1 992.3,418.5 1005.1,418.5 1017.8,416.0 1030.5,420.7 1043.3,420.7 1056.0,422.1 1068.7,425.7 1119.6,425.7 1132.4,430.8 1145.1,435.8 1157.8,439.4 1170.5,442.0" fill="none" stroke="#4daf4a" stroke-width="2.5" stroke-linejoin="round" stroke-linecap="butt"/>
<polyline points="890.5,410.0 903.3,408.8 916.0,411.2 979.6,411.2 992.3,409.0 1005.1,409.0 1017.8,406.5 1043.3,407.0 1056.0,409.8 1068.7,412.0 1081.4,411.7 1094.2,433.7" fill="none" stroke="#e41a1c" stroke-width="2.5" stroke-linejoin="round" stroke-linecap="butt"/>
<polyline points="1145.1,479.9 1157.8,404.8 1170.5,404.8" fill="none" stroke="#e41a1c" stroke-width="2.5" stroke-linejoin="round" stroke-linecap="butt"/>
<polyline points="890.5,414.4 903.3,412.2 916.0,413.5 966.9,414.0 979.6,416.5 992.3,423.1 1005.1,421.2 1017.8,425.6 1030.5,425.7 1043.3,422.8 1056.0,422.8 1068.7,425.7" fill="none" stroke="#377eb8" stroke-width="2.5" stroke-linejoin="round" stroke-linecap="butt"/>
<polyline points="1145.1,371.8 1157.8,376.6 1170.5,389.6" fill="none" stroke="#377eb8" stroke-width="2.5" stroke-linejoin="round" stroke-linecap="butt"/>
<circle cx="903.30" cy="408.80" r="4" fill="#e41a1c" stroke="none" stroke-width="0"/>
<circle cx="903.30" cy="411.50" r="4" fill="#4daf4a" stroke="none" stroke-width="0"/>
<circle cx="903.30" cy="412.30" r="4" fill="#377eb8" stroke="none" stroke-width="0"/>
<line x1="673.00" y1="338.40" x2="695.00" y2="338.40" stroke="#e41a1c" stroke-width="3"/>
<text x="709.60" y="343.00" font-size="13" text-anchor="start" textLength="25.6" lengthAdjust="spacingAndGlyphs" fill="#262626">GFS</text>
<line x1="673.00" y1="353.90" x2="695.00" y2="353.90" stroke="#4daf4a" stroke-width="3"/>
<text x="709.60" y="358.50" font-size="13" text-anchor="start" textLength="34.8" lengthAdjust="spacingAndGlyphs" fill="#262626">GFDL</text>
<line x1="673.00" y1="369.40" x2="695.00" y2="369.40" stroke="#377eb8" stroke-width="3"/>
<text x="709.60" y="374.00" font-size="13" text-anchor="start" textLength="39.2" lengthAdjust="spacingAndGlyphs" fill="#262626">HWRF</text>
<text x="1163.80" y="341.10" font-size="16" text-anchor="end" font-weight="bold" textLength="33.3" lengthAdjust="spacingAndGlyphs" fill="#262626">SST</text>
<rect x="661.5" y="324.5" width="509.0" height="244.0" fill="none" stroke="#262626" stroke-width="1.25"/>
<line x1="654.50" y1="568.50" x2="661.50" y2="568.50" stroke="#262626" stroke-width="1.25"/>
<text x="648.60" y="571.60" font-size="13" text-anchor="end" textLength="16.5" lengthAdjust="spacingAndGlyphs" fill="#262626">22</text>
<line x1="654.50" y1="522.02" x2="661.50" y2="522.02" stroke="#262626" stroke-width="1.25"/>
<text x="648.60" y="525.12" font-size="13" text-anchor="end" textLength="16.5" lengthAdjust="spacingAndGlyphs" fill="#262626">24</text>
<line x1="654.50" y1="475.55" x2="661.50" y2="475.55" stroke="#262626" stroke-width="1.25"/>
<text x="648.60" y="478.65" font-size="13" text-anchor="end" textLength="16.5" lengthAdjust="spacingAndGlyphs" fill="#262626">26</text>
<line x1="654.50" y1="429.07" x2="661.50" y2="429.07" stroke="#262626" stroke-width="1.25"/>
<text x="648.60" y="432.17" font-size="13" text-anchor="end" textLength="16.5" lengthAdjust="spacingAndGlyphs" fill="#262626">28</text>
<line x1="654.50" y1="382.60" x2="661.50" y2="382.60" stroke="#262626" stroke-width="1.25"/>
<text x="648.60" y="385.70" font-size="13" text-anchor="end" textLength="16.5" lengthAdjust="spacingAndGlyphs" fill="#262626">30</text>
<line x1="654.50" y1="336.12" x2="661.50" y2="336.12" stroke="#262626" stroke-width="1.25"/>
<text x="648.60" y="339.22" font-size="13" text-anchor="end" textLength="16.5" lengthAdjust="spacingAndGlyphs" fill="#262626">32</text>
<line x1="658.00" y1="556.88" x2="661.50" y2="556.88" stroke="#262626" stroke-width="1.0"/>
<line x1="658.00" y1="545.26" x2="661.50" y2="545.26" stroke="#262626" stroke-width="1.0"/>
<line x1="658.00" y1="533.64" x2="661.50" y2="533.64" stroke="#262626" stroke-width="1.0"/>
<line x1="658.00" y1="510.40" x2="661.50" y2="510.40" stroke="#262626" stroke-width="1.0"/>
<line x1="658.00" y1="498.79" x2="661.50" y2="498.79" stroke="#262626" stroke-width="1.0"/>
<line x1="658.00" y1="487.17" x2="661.50" y2="487.17" stroke="#262626" stroke-width="1.0"/>
<line x1="658.00" y1="463.93" x2="661.50" y2="463.93" stroke="#262626" stroke-width="1.0"/>
<line x1="658.00" y1="452.31" x2="661.50" y2="452.31" stroke="#262626" stroke-width="1.0"/>
<line x1="658.00" y1="440.69" x2="661.50" y2="440.69" stroke="#262626" stroke-width="1.0"/>
<line x1="658.00" y1="417.45" x2="661.50" y2="417.45" stroke="#262626" stroke-width="1.0"/>
<line x1="658.00" y1="405.83" x2="661.50" y2="405.83" stroke="#262626" stroke-width="1.0"/>
<line x1="658.00" y1="394.21" x2="661.50" y2="394.21" stroke="#262626" stroke-width="1.0"/>
<line x1="658.00" y1="370.98" x2="661.50" y2="370.98" stroke="#262626" stroke-width="1.0"/>
<line x1="658.00" y1="359.36" x2="661.50" y2="359.36" stroke="#262626" stroke-width="1.0"/>
<line x1="658.00" y1="347.74" x2="661.50" y2="347.74" stroke="#262626" stroke-width="1.0"/>
<line x1="661.50" y1="568.50" x2="661.50" y2="572.00" stroke="#262626" stroke-width="1.0"/>
<line x1="674.23" y1="568.50" x2="674.23" y2="575.50" stroke="#262626" stroke-width="1.25"/>
<line x1="686.95" y1="568.50" x2="686.95" y2="572.00" stroke="#262626" stroke-width="1.0"/>
<line x1="699.67" y1="568.50" x2="699.67" y2="572.00" stroke="#262626" stroke-width="1.0"/>
<line x1="712.40" y1="568.50" x2="712.40" y2="572.00" stroke="#262626" stroke-width="1.0"/>
<line x1="725.12" y1="568.50" x2="725.12" y2="575.50" stroke="#262626" stroke-width="1.25"/>
<line x1="737.85" y1="568.50" x2="737.85" y2="572.00" stroke="#262626" stroke-width="1.0"/>
<line x1="750.58" y1="568.50" x2="750.58" y2="572.00" stroke="#262626" stroke-width="1.0"/>
<line x1="763.30" y1="568.50" x2="763.30" y2="572.00" stroke="#262626" stroke-width="1.0"/>
<line x1="776.02" y1="568.50" x2="776.02" y2="575.50" stroke="#262626" stroke-width="1.25"/>
<line x1="788.75" y1="568.50" x2="788.75" y2="572.00" stroke="#262626" stroke-width="1.0"/>
<line x1="801.48" y1="568.50" x2="801.48" y2="572.00" stroke="#262626" stroke-width="1.0"/>
<line x1="814.20" y1="568.50" x2="814.20" y2="572.00" stroke="#262626" stroke-width="1.0"/>
<line x1="826.92" y1="568.50" x2="826.92" y2="575.50" stroke="#262626" stroke-width="1.25"/>
<line x1="839.65" y1="568.50" x2="839.65" y2="572.00" stroke="#262626" stroke-width="1.0"/>
<line x1="852.38" y1="568.50" x2="852.38" y2="572.00" stroke="#262626" stroke-width="1.0"/>
<line x1="865.10" y1="568.50" x2="865.10" y2="572.00" stroke="#262626" stroke-width="1.0"/>
<line x1="877.83" y1="568.50" x2="877.83" y2="575.50" stroke="#262626" stroke-width="1.25"/>
<line x1="890.55" y1="568.50" x2="890.55" y2="572.00" stroke="#262626" stroke-width="1.0"/>
<line x1="903.27" y1="568.50" x2="903.27" y2="572.00" stroke="#262626" stroke-width="1.0"/>
<line x1="916.00" y1="568.50" x2="916.00" y2="572.00" stroke="#262626" stroke-width="1.0"/>
<line x1="928.72" y1="568.50" x2="928.72" y2="575.50" stroke="#262626" stroke-width="1.25"/>
<line x1="941.45" y1="568.50" x2="941.45" y2="572.00" stroke="#262626" stroke-width="1.0"/>
<line x1="954.17" y1="568.50" x2="954.17" y2="572.00" stroke="#262626" stroke-width="1.0"/>
<line x1="966.90" y1="568.50" x2="966.90" y2="572.00" stroke="#262626" stroke-width="1.0"/>
<line x1="979.62" y1="568.50" x2="979.62" y2="575.50" stroke="#262626" stroke-width="1.25"/>
<line x1="992.35" y1="568.50" x2="992.35" y2="572.00" stroke="#262626" stroke-width="1.0"/>
<line x1="1005.08" y1="568.50" x2="1005.08" y2="572.00" stroke="#262626" stroke-width="1.0"/>
<line x1="1017.80" y1="568.50" x2="1017.80" y2="572.00" stroke="#262626" stroke-width="1.0"/>
<line x1="1030.53" y1="568.50" x2="1030.53" y2="575.50" stroke="#262626" stroke-width="1.25"/>
<line x1="1043.25" y1="568.50" x2="1043.25" y2="572.00" stroke="#262626" stroke-width="1.0"/>
<line x1="1055.97" y1="568.50" x2="1055.97" y2="572.00" stroke="#262626" stroke-width="1.0"/>
<line x1="1068.70" y1="568.50" x2="1068.70" y2="572.00" stroke="#262626" stroke-width="1.0"/>
<line x1="1081.42" y1="568.50" x2="1081.42" y2="575.50" stroke="#262626" stroke-width="1.25"/>
<line x1="1094.15" y1="568.50" x2="1094.15" y2="572.00" stroke="#262626" stroke-width="1.0"/>
<line x1="1106.88" y1="568.50" x2="1106.88" y2="572.00" stroke="#262626" stroke-width="1.0"/>
<line x1="1119.60" y1="568.50" x2="1119.60" y2="572.00" stroke="#262626" stroke-width="1.0"/>
<line x1="1132.32" y1="568.50" x2="1132.32" y2="575.50" stroke="#262626" stroke-width="1.25"/>
<line x1="1145.05" y1="568.50" x2="1145.05" y2="572.00" stroke="#262626" stroke-width="1.0"/>
<line x1="1157.78" y1="568.50" x2="1157.78" y2="572.00" stroke="#262626" stroke-width="1.0"/>
<line x1="1170.50" y1="568.50" x2="1170.50" y2="572.00" stroke="#262626" stroke-width="1.0"/>
<text x="674.23" y="591.10" font-size="13" text-anchor="middle" textLength="41.9" lengthAdjust="spacingAndGlyphs" fill="#262626">17Nov</text>
<text x="674.23" y="607.10" font-size="13" text-anchor="middle" textLength="23.4" lengthAdjust="spacingAndGlyphs" fill="#262626">00z</text>
<text x="725.12" y="591.10" font-size="13" text-anchor="middle" textLength="41.9" lengthAdjust="spacingAndGlyphs" fill="#262626">18Nov</text>
<text x="725.12" y="607.10" font-size="13" text-anchor="middle" textLength="23.4" lengthAdjust="spacingAndGlyphs" fill="#262626">00z</text>
<text x="776.02" y="591.10" font-size="13" text-anchor="middle" textLength="41.9" lengthAdjust="spacingAndGlyphs" fill="#262626">19Nov</text>
<text x="776.02" y="607.10" font-size="13" text-anchor="middle" textLength="23.4" lengthAdjust="spacingAndGlyphs" fill="#262626">00z</text>
<text x="826.92" y="591.10" font-size="13" text-anchor="middle" textLength="41.9" lengthAdjust="spacingAndGlyphs" fill="#262626">20Nov</text>
<text x="826.92" y="607.10" font-size="13" text-anchor="middle" textLength="23.4" lengthAdjust="spacingAndGlyphs" fill="#262626">00z</text>
<text x="877.83" y="591.10" font-size="13" text-anchor="middle" textLength="41.9" lengthAdjust="spacingAndGlyphs" fill="#262626">21Nov</text>
<text x="877.83" y="607.10" font-size="13" text-anchor="middle" textLength="23.4" lengthAdjust="spacingAndGlyphs" fill="#262626">00z</text>
<text x="928.72" y="591.10" font-size="13" text-anchor="middle" textLength="41.9" lengthAdjust="spacingAndGlyphs" fill="#262626">22Nov</text>
<text x="928.72" y="607.10" font-size="13" text-anchor="middle" textLength="23.4" lengthAdjust="spacingAndGlyphs" fill="#262626">00z</text>
<text x="979.62" y="591.10" font-size="13" text-anchor="middle" textLength="41.9" lengthAdjust="spacingAndGlyphs" fill="#262626">23Nov</text>
<text x="979.62" y="607.10" font-size="13" text-anchor="middle" textLength="23.4" lengthAdjust="spacingAndGlyphs" fill="#262626">00z</text>
<text x="1030.53" y="591.10" font-size="13" text-anchor="middle" textLength="41.9" lengthAdjust="spacingAndGlyphs" fill="#262626">24Nov</text>
<text x="1030.53" y="607.10" font-size="13" text-anchor="middle" textLength="23.4" lengthAdjust="spacingAndGlyphs" fill="#262626">00z</text>
<text x="1081.42" y="591.10" font-size="13" text-anchor="middle" textLength="41.9" lengthAdjust="spacingAndGlyphs" fill="#262626">25Nov</text>
<text x="1081.42" y="607.10" font-size="13" text-anchor="middle" textLength="23.4" lengthAdjust="spacingAndGlyphs" fill="#262626">00z</text>
<text x="1132.32" y="591.10" font-size="13" text-anchor="middle" textLength="41.9" lengthAdjust="spacingAndGlyphs" fill="#262626">26Nov</text>
<text x="1132.32" y="607.10" font-size="13" text-anchor="middle" textLength="23.4" lengthAdjust="spacingAndGlyphs" fill="#262626">00z</text>
<text x="620.20" y="446.50" font-size="17" text-anchor="middle" textLength="189.5" lengthAdjust="spacingAndGlyphs" transform="rotate(-90 620.20 446.50)" fill="#262626">Sea Surface Temp (°C)</text>
<rect x="661.50" y="611.50" width="509.00" height="61.00" fill="#cccccc"/>
<rect x="661.50" y="733.50" width="509.00" height="61.00" fill="#cccccc"/>
<line x1="903.50" y1="611.50" x2="903.50" y2="855.50" stroke="#a89a8c" stroke-width="2.6"/>
<line x1="903.50" y1="611.50" x2="903.50" y2="855.50" stroke="#377eb8" stroke-width="1.4"/>
<polyline points="890.5,718.8 903.3,738.1 916.0,755.0 928.7,748.1 941.4,750.0 954.2,752.5 966.9,748.1 979.6,740.6 992.3,726.9 1005.1,720.6 1017.8,722.5 1030.5,728.8 1043.3,720.6 1056.0,720.6 1068.7,724.2 1081.4,730.4 1094.2,735.9 1106.9,731.4 1119.6,735.9 1132.4,726.6 1145.1,729.7 1157.8,728.4 1170.5,720.6" fill="none" stroke="#4daf4a" stroke-width="2.5" stroke-linejoin="round" stroke-linecap="butt"/>
<polyline points="890.5,706.9 903.3,729.4 916.0,733.1 928.7,734.9 941.4,736.2 954.2,733.5 966.9,737.5 979.6,735.0 992.3,733.1 1005.1,726.2 1017.8,720.2 1030.5,714.6 1043.3,706.8 1056.0,701.0 1068.7,702.9 1081.4,710.0 1094.2,705.5 1106.9,694.8 1119.6,694.8 1132.4,691.7 1145.1,691.7 1157.8,694.8 1170.5,696.5" fill="none" stroke="#e41a1c" stroke-width="2.5" stroke-linejoin="round" stroke-linecap="butt"/>
<polyline points="890.5,701.9 903.3,728.8 916.0,730.0 928.7,734.0 941.4,732.5 954.2,731.2 966.9,733.1 979.6,717.5 992.3,719.4 1005.1,725.0 1017.8,716.9 1030.5,708.1 1043.3,703.8 1056.0,702.0 1068.7,699.4 1081.4,705.1 1094.2,705.1 1106.9,712.6 1119.6,715.9 1132.4,713.3 1145.1,714.6 1157.8,710.0 1170.5,717.8" fill="none" stroke="#377eb8" stroke-width="2.5" stroke-linejoin="round" stroke-linecap="butt"/>
<circle cx="903.30" cy="729.40" r="4" fill="#e41a1c" stroke="none" stroke-width="0"/>
<circle cx="903.30" cy="738.10" r="4" fill="#4daf4a" stroke="none" stroke-width="0"/>
<circle cx="903.30" cy="729.40" r="4" fill="#377eb8" stroke="none" stroke-width="0"/>
<line x1="673.00" y1="808.40" x2="695.00" y2="808.40" stroke="#e41a1c" stroke-width="3"/>
<text x="709.60" y="813.00" font-size="13" text-anchor="start" textLength="25.6" lengthAdjust="spacingAndGlyphs" fill="#262626">GFS</text>
<line x1="673.00" y1="823.90" x2="695.00" y2="823.90" stroke="#4daf4a" stroke-width="3"/>
<text x="709.60" y="828.50" font-size="13" text-anchor="start" textLength="34.8" lengthAdjust="spacingAndGlyphs" fill="#262626">GFDL</text>
<line x1="673.00" y1="839.40" x2="695.00" y2="839.40" stroke="#377eb8" stroke-width="3"/>
<text x="709.60" y="844.00" font-size="13" text-anchor="start" textLength="39.2" lengthAdjust="spacingAndGlyphs" fill="#262626">HWRF</text>
<text x="1165.10" y="628.10" font-size="16" text-anchor="end" font-weight="bold" textLength="123.0" lengthAdjust="spacingAndGlyphs" fill="#262626">Mid-Level RH</text>
<rect x="661.5" y="611.5" width="509.0" height="244.0" fill="none" stroke="#262626" stroke-width="1.25"/>
<line x1="654.50" y1="855.50" x2="661.50" y2="855.50" stroke="#262626" stroke-width="1.25"/>
<text x="648.60" y="858.60" font-size="13" text-anchor="end" textLength="16.5" lengthAdjust="spacingAndGlyphs" fill="#262626">20</text>
<line x1="654.50" y1="794.50" x2="661.50" y2="794.50" stroke="#262626" stroke-width="1.25"/>
<text x="648.60" y="797.60" font-size="13" text-anchor="end" textLength="16.5" lengthAdjust="spacingAndGlyphs" fill="#262626">40</text>
<line x1="654.50" y1="733.50" x2="661.50" y2="733.50" stroke="#262626" stroke-width="1.25"/>
<text x="648.60" y="736.60" font-size="13" text-anchor="end" textLength="16.5" lengthAdjust="spacingAndGlyphs" fill="#262626">60</text>
<line x1="654.50" y1="672.50" x2="661.50" y2="672.50" stroke="#262626" stroke-width="1.25"/>
<text x="648.60" y="675.60" font-size="13" text-anchor="end" textLength="16.5" lengthAdjust="spacingAndGlyphs" fill="#262626">80</text>
<line x1="654.50" y1="611.50" x2="661.50" y2="611.50" stroke="#262626" stroke-width="1.25"/>
<text x="648.60" y="614.60" font-size="13" text-anchor="end" textLength="24.8" lengthAdjust="spacingAndGlyphs" fill="#262626">100</text>
<line x1="658.00" y1="840.25" x2="661.50" y2="840.25" stroke="#262626" stroke-width="1.0"/>
<line x1="658.00" y1="825.00" x2="661.50" y2="825.00" stroke="#262626" stroke-width="1.0"/>
<line x1="658.00" y1="809.75" x2="661.50" y2="809.75" stroke="#262626" stroke-width="1.0"/>
<line x1="658.00" y1="779.25" x2="661.50" y2="779.25" stroke="#262626" stroke-width="1.0"/>
<line x1="658.00" y1="764.00" x2="661.50" y2="764.00" stroke="#262626" stroke-width="1.0"/>
<line x1="658.00" y1="748.75" x2="661.50" y2="748.75" stroke="#262626" stroke-width="1.0"/>
<line x1="658.00" y1="718.25" x2="661.50" y2="718.25" stroke="#262626" stroke-width="1.0"/>
<line x1="658.00" y1="703.00" x2="661.50" y2="703.00" stroke="#262626" stroke-width="1.0"/>
<line x1="658.00" y1="687.75" x2="661.50" y2="687.75" stroke="#262626" stroke-width="1.0"/>
<line x1="658.00" y1="657.25" x2="661.50" y2="657.25" stroke="#262626" stroke-width="1.0"/>
<line x1="658.00" y1="642.00" x2="661.50" y2="642.00" stroke="#262626" stroke-width="1.0"/>
<line x1="658.00" y1="626.75" x2="661.50" y2="626.75" stroke="#262626" stroke-width="1.0"/>
<line x1="661.50" y1="855.50" x2="661.50" y2="859.00" stroke="#262626" stroke-width="1.0"/>
<line x1="674.23" y1="855.50" x2="674.23" y2="862.50" stroke="#262626" stroke-width="1.25"/>
<line x1="686.95" y1="855.50" x2="686.95" y2="859.00" stroke="#262626" stroke-width="1.0"/>
<line x1="699.67" y1="855.50" x2="699.67" y2="859.00" stroke="#262626" stroke-width="1.0"/>
<line x1="712.40" y1="855.50" x2="712.40" y2="859.00" stroke="#262626" stroke-width="1.0"/>
<line x1="725.12" y1="855.50" x2="725.12" y2="862.50" stroke="#262626" stroke-width="1.25"/>
<line x1="737.85" y1="855.50" x2="737.85" y2="859.00" stroke="#262626" stroke-width="1.0"/>
<line x1="750.58" y1="855.50" x2="750.58" y2="859.00" stroke="#262626" stroke-width="1.0"/>
<line x1="763.30" y1="855.50" x2="763.30" y2="859.00" stroke="#262626" stroke-width="1.0"/>
<line x1="776.02" y1="855.50" x2="776.02" y2="862.50" stroke="#262626" stroke-width="1.25"/>
<line x1="788.75" y1="855.50" x2="788.75" y2="859.00" stroke="#262626" stroke-width="1.0"/>
<line x1="801.48" y1="855.50" x2="801.48" y2="859.00" stroke="#262626" stroke-width="1.0"/>
<line x1="814.20" y1="855.50" x2="814.20" y2="859.00" stroke="#262626" stroke-width="1.0"/>
<line x1="826.92" y1="855.50" x2="826.92" y2="862.50" stroke="#262626" stroke-width="1.25"/>
<line x1="839.65" y1="855.50" x2="839.65" y2="859.00" stroke="#262626" stroke-width="1.0"/>
<line x1="852.38" y1="855.50" x2="852.38" y2="859.00" stroke="#262626" stroke-width="1.0"/>
<line x1="865.10" y1="855.50" x2="865.10" y2="859.00" stroke="#262626" stroke-width="1.0"/>
<line x1="877.83" y1="855.50" x2="877.83" y2="862.50" stroke="#262626" stroke-width="1.25"/>
<line x1="890.55" y1="855.50" x2="890.55" y2="859.00" stroke="#262626" stroke-width="1.0"/>
<line x1="903.27" y1="855.50" x2="903.27" y2="859.00" stroke="#262626" stroke-width="1.0"/>
<line x1="916.00" y1="855.50" x2="916.00" y2="859.00" stroke="#262626" stroke-width="1.0"/>
<line x1="928.72" y1="855.50" x2="928.72" y2="862.50" stroke="#262626" stroke-width="1.25"/>
<line x1="941.45" y1="855.50" x2="941.45" y2="859.00" stroke="#262626" stroke-width="1.0"/>
<line x1="954.17" y1="855.50" x2="954.17" y2="859.00" stroke="#262626" stroke-width="1.0"/>
<line x1="966.90" y1="855.50" x2="966.90" y2="859.00" stroke="#262626" stroke-width="1.0"/>
<line x1="979.62" y1="855.50" x2="979.62" y2="862.50" stroke="#262626" stroke-width="1.25"/>
<line x1="992.35" y1="855.50" x2="992.35" y2="859.00" stroke="#262626" stroke-width="1.0"/>
<line x1="1005.08" y1="855.50" x2="1005.08" y2="859.00" stroke="#262626" stroke-width="1.0"/>
<line x1="1017.80" y1="855.50" x2="1017.80" y2="859.00" stroke="#262626" stroke-width="1.0"/>
<line x1="1030.53" y1="855.50" x2="1030.53" y2="862.50" stroke="#262626" stroke-width="1.25"/>
<line x1="1043.25" y1="855.50" x2="1043.25" y2="859.00" stroke="#262626" stroke-width="1.0"/>
<line x1="1055.97" y1="855.50" x2="1055.97" y2="859.00" stroke="#262626" stroke-width="1.0"/>
<line x1="1068.70" y1="855.50" x2="1068.70" y2="859.00" stroke="#262626" stroke-width="1.0"/>
<line x1="1081.42" y1="855.50" x2="1081.42" y2="862.50" stroke="#262626" stroke-width="1.25"/>
<line x1="1094.15" y1="855.50" x2="1094.15" y2="859.00" stroke="#262626" stroke-width="1.0"/>
<line x1="1106.88" y1="855.50" x2="1106.88" y2="859.00" stroke="#262626" stroke-width="1.0"/>
<line x1="1119.60" y1="855.50" x2="1119.60" y2="859.00" stroke="#262626" stroke-width="1.0"/>
<line x1="1132.32" y1="855.50" x2="1132.32" y2="862.50" stroke="#262626" stroke-width="1.25"/>
<line x1="1145.05" y1="855.50" x2="1145.05" y2="859.00" stroke="#262626" stroke-width="1.0"/>
<line x1="1157.78" y1="855.50" x2="1157.78" y2="859.00" stroke="#262626" stroke-width="1.0"/>
<line x1="1170.50" y1="855.50" x2="1170.50" y2="859.00" stroke="#262626" stroke-width="1.0"/>
<text x="674.23" y="878.10" font-size="13" text-anchor="middle" textLength="41.9" lengthAdjust="spacingAndGlyphs" fill="#262626">17Nov</text>
<text x="674.23" y="894.10" font-size="13" text-anchor="middle" textLength="23.4" lengthAdjust="spacingAndGlyphs" fill="#262626">00z</text>
<text x="725.12" y="878.10" font-size="13" text-anchor="middle" textLength="41.9" lengthAdjust="spacingAndGlyphs" fill="#262626">18Nov</text>
<text x="725.12" y="894.10" font-size="13" text-anchor="middle" textLength="23.4" lengthAdjust="spacingAndGlyphs" fill="#262626">00z</text>
<text x="776.02" y="878.10" font-size="13" text-anchor="middle" textLength="41.9" lengthAdjust="spacingAndGlyphs" fill="#262626">19Nov</text>
<text x="776.02" y="894.10" font-size="13" text-anchor="middle" textLength="23.4" lengthAdjust="spacingAndGlyphs" fill="#262626">00z</text>
<text x="826.92" y="878.10" font-size="13" text-anchor="middle" textLength="41.9" lengthAdjust="spacingAndGlyphs" fill="#262626">20Nov</text>
<text x="826.92" y="894.10" font-size="13" text-anchor="middle" textLength="23.4" lengthAdjust="spacingAndGlyphs" fill="#262626">00z</text>
<text x="877.83" y="878.10" font-size="13" text-anchor="middle" textLength="41.9" lengthAdjust="spacingAndGlyphs" fill="#262626">21Nov</text>
<text x="877.83" y="894.10" font-size="13" text-anchor="middle" textLength="23.4" lengthAdjust="spacingAndGlyphs" fill="#262626">00z</text>
<text x="928.72" y="878.10" font-size="13" text-anchor="middle" textLength="41.9" lengthAdjust="spacingAndGlyphs" fill="#262626">22Nov</text>
<text x="928.72" y="894.10" font-size="13" text-anchor="middle" textLength="23.4" lengthAdjust="spacingAndGlyphs" fill="#262626">00z</text>
<text x="979.62" y="878.10" font-size="13" text-anchor="middle" textLength="41.9" lengthAdjust="spacingAndGlyphs" fill="#262626">23Nov</text>
<text x="979.62" y="894.10" font-size="13" text-anchor="middle" textLength="23.4" lengthAdjust="spacingAndGlyphs" fill="#262626">00z</text>
<text x="1030.53" y="878.10" font-size="13" text-anchor="middle" textLength="41.9" lengthAdjust="spacingAndGlyphs" fill="#262626">24Nov</text>
<text x="1030.53" y="894.10" font-size="13" text-anchor="middle" textLength="23.4" lengthAdjust="spacingAndGlyphs" fill="#262626">00z</text>
<text x="1081.42" y="878.10" font-size="13" text-anchor="middle" textLength="41.9" lengthAdjust="spacingAndGlyphs" fill="#262626">25Nov</text>
<text x="1081.42" y="894.10" font-size="13" text-anchor="middle" textLength="23.4" lengthAdjust="spacingAndGlyphs" fill="#262626">00z</text>
<text x="1132.32" y="878.10" font-size="13" text-anchor="middle" textLength="41.9" lengthAdjust="spacingAndGlyphs" fill="#262626">26Nov</text>
<text x="1132.32" y="894.10" font-size="13" text-anchor="middle" textLength="23.4" lengthAdjust="spacingAndGlyphs" fill="#262626">00z</text>
<text x="620.20" y="733.50" font-size="17" text-anchor="middle" textLength="219.7" lengthAdjust="spacingAndGlyphs" transform="rotate(-90 620.20 733.50)" fill="#262626">700-500 hPa Humidity (%)</text>
<text x="12.00" y="24.80" font-size="22" text-anchor="start" font-weight="bold" textLength="446.9" lengthAdjust="spacingAndGlyphs" fill="#262626">Multi-Model Diagnostic Comparison</text>
<text x="1175.90" y="24.70" font-size="22" text-anchor="end" font-weight="bold" textLength="253.8" lengthAdjust="spacingAndGlyphs" fill="#262626">SIXTEEN - AL162016</text>
<clipPath id="cm"><rect x="66.5" y="335.5" width="509" height="509"/></clipPath>
<g clip-path="url(#cm)">
<line x1="177.90" y1="335.50" x2="177.90" y2="844.50" stroke="#cccccc" stroke-width="1.2"/>
<line x1="305.30" y1="335.50" x2="305.30" y2="844.50" stroke="#cccccc" stroke-width="1.2"/>
<line x1="432.60" y1="335.50" x2="432.60" y2="844.50" stroke="#cccccc" stroke-width="1.2"/>
<line x1="560.00" y1="335.50" x2="560.00" y2="844.50" stroke="#cccccc" stroke-width="1.2"/>
<line x1="66.50" y1="413.75" x2="575.50" y2="413.75" stroke="#cccccc" stroke-width="1.2"/>
<line x1="66.50" y1="540.50" x2="575.50" y2="540.50" stroke="#cccccc" stroke-width="1.2"/>
<line x1="66.50" y1="667.30" x2="575.50" y2="667.30" stroke="#cccccc" stroke-width="1.2"/>
<line x1="66.50" y1="794.30" x2="575.50" y2="794.30" stroke="#cccccc" stroke-width="1.2"/>
<polygon points="60.0,457.8 66.5,457.8 73.1,456.9 83.8,454.2 98.0,452.4 115.8,447.1 128.2,445.3 141.3,442.7 152.0,436.4 159.1,427.6 161.8,416.9 166.2,404.4 168.0,390.2 173.3,385.8 191.1,380.4 208.9,376.9 226.7,371.6 244.4,372.4 255.1,374.2 259.6,383.1 256.9,392.0 249.8,400.9 244.4,409.8 240.9,418.7 237.3,427.6 230.2,441.8 226.7,450.7 223.1,459.6 224.9,473.8 221.3,489.8 219.6,500.4 212.4,509.3 208.2,512.9 213.0,516.0 222.0,521.5 234.0,518.5 245.0,518.0 259.0,519.0 272.5,517.0 280.0,513.3 290.0,517.0 300.0,517.0 305.3,515.1 319.6,519.6 333.8,527.6 344.4,534.7 351.6,544.4 349.8,558.7 347.1,574.7 344.4,588.9 342.7,599.6 339.1,610.2 337.3,624.4 339.1,638.7 346.0,656.7 352.7,666.0 360.7,675.3 366.0,678.0 370.0,681.0 372.0,686.0 376.0,689.0 383.0,688.0 390.0,695.0 400.0,697.5 412.0,693.0 420.0,689.0 430.0,686.0 435.0,682.0 442.0,677.0 457.0,678.5 466.0,681.0 475.0,684.0 485.0,690.0 494.4,699.2 504.6,706.9 509.7,714.6 512.3,717.1 512.3,701.8 522.5,694.1 532.7,683.9 542.9,675.0 545.5,660.9 553.2,648.1 563.4,640.5 580.0,640.5 580.0,850.0 491.8,850.0 494.4,839.8 498.2,819.4 496.9,799.0 495.6,778.5 498.2,763.2 497.3,752.0 492.0,744.0 490.0,740.0 485.0,736.0 480.0,728.0 473.0,718.0 474.0,713.0 471.0,707.0 469.0,700.0 460.0,695.0 448.0,692.0 442.0,694.0 438.0,700.0 432.0,706.0 426.0,710.0 420.0,713.0 424.0,719.0 430.0,725.0 431.0,731.0 425.0,733.0 420.0,736.0 410.0,737.0 408.0,730.0 404.0,721.0 398.0,726.0 392.0,724.0 390.0,716.0 382.0,713.0 376.0,711.0 366.0,710.0 359.3,715.3 355.3,710.0 347.3,707.3 338.0,702.0 342.0,695.3 336.7,688.7 326.0,682.0 316.7,678.0 314.0,672.7 310.0,664.7 306.0,671.3 302.0,676.7 296.7,671.3 286.0,666.0 283.3,659.3 284.7,654.0 283.3,643.3 282.2,638.7 278.7,626.2 269.8,615.6 260.9,608.4 256.7,608.7 250.0,603.3 243.3,596.7 236.7,591.3 240.0,587.3 236.7,584.7 230.0,586.3 220.0,586.0 213.3,585.3 206.7,583.3 200.0,580.0 193.3,578.0 186.7,576.7 180.0,574.7 165.6,568.0 151.3,566.2 140.7,562.7 130.0,555.6 119.3,546.7 108.7,538.7 98.0,528.9 87.3,521.8 76.7,514.7 66.5,511.1 60.0,511.1" fill="#cccccc" stroke="none" stroke-width="0"/>
<polygon points="307.0,364.8 311.7,363.0 317.5,361.2 321.0,360.1 320.4,355.4 323.3,350.2 328.0,346.1 335.0,343.2 342.0,340.2 347.8,337.3 351.3,330.0 419.0,330.0 426.0,337.9 433.0,339.7 436.2,339.4 442.5,345.0 448.8,350.6 455.0,351.9 463.8,352.5 467.5,353.1 475.0,357.5 480.0,361.2 487.5,366.2 496.2,370.0 505.0,373.8 511.2,378.1 520.0,381.2 527.5,382.5 533.8,384.4 540.0,385.0 543.8,387.5 541.2,392.5 546.2,393.8 555.0,395.0 565.0,398.8 571.2,403.8 580.0,407.5 580.0,411.5 567.5,411.2 555.0,411.9 542.5,411.9 530.0,411.9 517.5,412.5 505.0,413.1 492.5,413.8 497.5,408.8 503.8,402.5 505.0,398.8 500.0,396.2 486.2,393.8 480.0,392.5 472.5,387.5 470.0,382.5 468.8,375.0 465.0,371.9 455.0,372.5 448.8,372.5 442.5,371.2 435.0,368.8 430.0,367.5 428.3,365.3 423.7,362.4 419.0,360.1 412.0,359.5 405.0,359.5 402.7,356.0 400.3,358.9 398.0,358.3 392.2,356.6 386.3,355.4 381.7,353.1 378.2,351.3 381.7,349.6 388.7,349.0 389.8,347.2 386.3,345.5 379.3,344.3 370.0,343.8 363.0,344.3 359.5,346.7 354.8,349.0 351.3,352.5 346.7,356.0 340.8,356.6 335.0,357.2 331.5,358.3 330.3,363.0 325.7,364.2 321.0,365.3 317.5,367.7 311.7,365.9" fill="#cccccc" stroke="none" stroke-width="0"/>
<polygon points="353.7,366.5 357.2,363.6 361.8,364.2 365.3,367.7 367.7,372.3 363.0,374.7 357.2,375.2 352.5,372.3 354.8,370.0" fill="#cccccc" stroke="none" stroke-width="0"/>
<polygon points="474.3,454.6 477.8,452.0 484.8,450.5 495.3,450.8 505.8,452.5 511.7,454.0 516.3,456.9 524.5,459.3 528.6,465.1 518.7,466.5 511.7,466.3 504.7,469.8 500.0,466.8 489.5,466.5 484.8,461.6 482.5,459.8 476.7,457.5 474.3,456.3" fill="#cccccc" stroke="none" stroke-width="0"/>
<line x1="263.00" y1="506.50" x2="268.00" y2="504.50" stroke="#cccccc" stroke-width="1.3"/>
<line x1="268.00" y1="504.50" x2="273.50" y2="503.30" stroke="#cccccc" stroke-width="1.0"/>
<polygon points="397.0,429.2 402.5,428.6 403.0,430.2 398.0,430.6" fill="#cccccc" stroke="none" stroke-width="0"/>
<polygon points="282.0,618.0 290.0,616.0 297.0,620.0 304.0,627.0 310.0,634.0 308.0,637.0 288.0,637.0 283.0,629.0 280.0,623.0" fill="#ffffff" stroke="none" stroke-width="0"/>
<polygon points="128.0,449.5 136.0,446.0 142.0,442.0 146.0,445.0 144.0,449.0 138.0,451.5 131.0,450.5" fill="#ffffff" stroke="none" stroke-width="0"/>
<polygon points="572.0,447.0 576.0,444.0 576.0,457.0 573.0,456.0" fill="#cccccc" stroke="none" stroke-width="0"/>
<polyline points="130.0,513.0 166.0,512.5 180.0,515.0 192.0,517.5 206.0,516.0" fill="none" stroke="#ffffff" stroke-width="1.1" stroke-linejoin="round"/>
<polyline points="166.0,512.5 167.0,506.0 162.0,500.0" fill="none" stroke="#ffffff" stroke-width="1.1" stroke-linejoin="round"/>
<polyline points="198.0,500.0 198.0,516.0" fill="none" stroke="#ffffff" stroke-width="1.1" stroke-linejoin="round"/>
<polyline points="152.0,513.0 145.0,525.0 147.0,532.0 136.0,535.0 130.0,530.0" fill="none" stroke="#ffffff" stroke-width="1.1" stroke-linejoin="round"/>
<polyline points="159.0,514.0 158.0,521.0 162.0,525.0 160.0,530.0 165.0,532.0 180.0,533.0 182.0,537.0 198.0,533.0 200.0,537.0 222.0,521.5" fill="none" stroke="#ffffff" stroke-width="1.1" stroke-linejoin="round"/>
<polyline points="188.0,518.0 187.0,526.0 188.0,534.0" fill="none" stroke="#ffffff" stroke-width="1.1" stroke-linejoin="round"/>
<polyline points="156.0,534.0 160.0,542.0 182.0,537.0" fill="none" stroke="#ffffff" stroke-width="1.1" stroke-linejoin="round"/>
<polyline points="170.0,543.0 171.0,552.0 163.0,559.0 162.0,566.0" fill="none" stroke="#ffffff" stroke-width="1.1" stroke-linejoin="round"/>
<polyline points="150.0,542.0 148.0,554.0 139.5,562.0" fill="none" stroke="#ffffff" stroke-width="1.1" stroke-linejoin="round"/>
<polyline points="136.0,535.0 139.0,543.0 136.0,548.0 130.0,551.0" fill="none" stroke="#ffffff" stroke-width="1.1" stroke-linejoin="round"/>
<polyline points="148.0,554.0 163.0,556.0" fill="none" stroke="#ffffff" stroke-width="1.1" stroke-linejoin="round"/>
<polyline points="182.0,542.0 186.0,550.0 200.0,547.0 199.0,542.0" fill="none" stroke="#ffffff" stroke-width="1.1" stroke-linejoin="round"/>
<polyline points="171.0,552.0 184.0,551.0 190.0,554.0 194.0,553.0 208.0,552.0" fill="none" stroke="#ffffff" stroke-width="1.1" stroke-linejoin="round"/>
<polyline points="200.0,537.0 212.0,532.0 210.0,550.0 206.0,556.0" fill="none" stroke="#ffffff" stroke-width="1.1" stroke-linejoin="round"/>
<polyline points="176.0,568.0 178.0,562.0 186.0,560.0 192.0,556.0 208.0,555.0 212.0,560.0 220.0,556.0" fill="none" stroke="#ffffff" stroke-width="1.1" stroke-linejoin="round"/>
<polyline points="222.0,521.5 234.0,518.0 230.0,533.0 236.0,542.0 226.0,548.0 220.0,560.0 225.0,570.0 222.0,583.0" fill="none" stroke="#ffffff" stroke-width="1.1" stroke-linejoin="round"/>
<polyline points="234.0,518.0 250.0,528.0" fill="none" stroke="#ffffff" stroke-width="1.1" stroke-linejoin="round"/>
<polyline points="236.0,542.0 245.0,540.0 250.0,543.0" fill="none" stroke="#ffffff" stroke-width="1.1" stroke-linejoin="round"/>
<polyline points="190.0,564.0 188.0,576.0" fill="none" stroke="#ffffff" stroke-width="1.1" stroke-linejoin="round"/>
<polyline points="195.0,564.0 200.0,578.0" fill="none" stroke="#ffffff" stroke-width="1.1" stroke-linejoin="round"/>
<polyline points="198.0,564.0 206.0,576.0" fill="none" stroke="#ffffff" stroke-width="1.1" stroke-linejoin="round"/>
<polyline points="205.0,560.0 210.0,582.0" fill="none" stroke="#ffffff" stroke-width="1.1" stroke-linejoin="round"/>
<polyline points="230.0,556.0 240.0,560.0 250.0,556.0" fill="none" stroke="#ffffff" stroke-width="1.1" stroke-linejoin="round"/>
<polyline points="236.0,560.0 234.0,576.0 242.0,588.0" fill="none" stroke="#ffffff" stroke-width="1.1" stroke-linejoin="round"/>
<polyline points="140.0,544.0 150.0,542.0 160.0,542.0" fill="none" stroke="#ffffff" stroke-width="1.1" stroke-linejoin="round"/>
<polyline points="136.0,548.0 145.0,552.0 140.0,556.0 142.0,561.0" fill="none" stroke="#ffffff" stroke-width="1.1" stroke-linejoin="round"/>
<polyline points="305.5,515.0 305.5,545.0" fill="none" stroke="#ffffff" stroke-width="1.1" stroke-linejoin="round"/>
<polyline points="350.0,539.0 345.0,539.5 330.0,545.0 320.0,548.0 310.0,545.0 305.5,545.0 302.0,552.0 298.0,557.0 288.0,564.0 284.0,568.0 278.0,570.0" fill="none" stroke="#ffffff" stroke-width="1.1" stroke-linejoin="round"/>
<polyline points="240.0,527.0 252.0,528.0 265.0,525.0 274.0,528.0 282.0,526.0 287.0,524.0 298.0,530.0 304.0,536.0 305.5,540.0" fill="none" stroke="#ffffff" stroke-width="1.1" stroke-linejoin="round"/>
<polyline points="269.0,520.0 274.0,528.0" fill="none" stroke="#ffffff" stroke-width="1.1" stroke-linejoin="round"/>
<polyline points="258.0,532.0 257.0,540.0 263.0,555.0 256.0,562.0 255.0,566.0" fill="none" stroke="#ffffff" stroke-width="1.1" stroke-linejoin="round"/>
<polyline points="263.0,555.0 270.0,556.0 277.0,559.0 290.0,562.0 300.0,552.0" fill="none" stroke="#ffffff" stroke-width="1.1" stroke-linejoin="round"/>
<polyline points="240.0,539.0 248.0,541.0 245.0,550.0 243.0,560.0" fill="none" stroke="#ffffff" stroke-width="1.1" stroke-linejoin="round"/>
<polyline points="250.0,540.0 257.0,540.0" fill="none" stroke="#ffffff" stroke-width="1.1" stroke-linejoin="round"/>
<polyline points="240.0,572.0 246.0,574.0 252.0,575.0 261.0,572.0 272.0,576.0 277.0,574.0" fill="none" stroke="#ffffff" stroke-width="1.1" stroke-linejoin="round"/>
<polyline points="261.0,572.0 262.0,600.0" fill="none" stroke="#ffffff" stroke-width="1.1" stroke-linejoin="round"/>
<polyline points="305.0,559.0 309.0,563.0 308.0,567.0 302.0,570.0 296.0,576.0 292.0,582.0 282.0,588.0 273.0,593.0 264.0,600.0" fill="none" stroke="#ffffff" stroke-width="1.1" stroke-linejoin="round"/>
<polyline points="292.0,582.0 299.0,590.0 300.0,600.0" fill="none" stroke="#ffffff" stroke-width="1.1" stroke-linejoin="round"/>
<polyline points="243.0,580.0 240.0,590.0" fill="none" stroke="#ffffff" stroke-width="1.1" stroke-linejoin="round"/>
<polyline points="264.0,579.0 275.0,580.0 273.0,600.0" fill="none" stroke="#ffffff" stroke-width="1.1" stroke-linejoin="round"/>
<polyline points="295.0,639.0 310.0,640.0 326.0,646.0 338.0,644.5" fill="none" stroke="#ffffff" stroke-width="1.1" stroke-linejoin="round"/>
<polyline points="304.0,606.0 313.0,618.0 325.0,635.0" fill="none" stroke="#ffffff" stroke-width="1.1" stroke-linejoin="round"/>
<polyline points="303.0,625.0 312.0,619.0" fill="none" stroke="#ffffff" stroke-width="1.1" stroke-linejoin="round"/>
<polyline points="272.0,600.0 280.0,602.0 300.0,596.0 304.0,606.0" fill="none" stroke="#ffffff" stroke-width="1.1" stroke-linejoin="round"/>
<polyline points="304.0,596.0 305.0,606.0" fill="none" stroke="#ffffff" stroke-width="1.1" stroke-linejoin="round"/>
<polyline points="295.0,644.0 310.0,656.0 312.0,662.0 316.0,670.0 314.0,680.0" fill="none" stroke="#ffffff" stroke-width="1.1" stroke-linejoin="round"/>
<polyline points="327.0,648.0 327.0,666.0 332.0,663.0 348.0,670.0" fill="none" stroke="#ffffff" stroke-width="1.1" stroke-linejoin="round"/>
<polyline points="310.0,656.0 300.0,662.0 307.0,668.0" fill="none" stroke="#ffffff" stroke-width="1.1" stroke-linejoin="round"/>
<polyline points="268.0,621.0 274.0,612.0 278.0,611.0 280.0,623.0" fill="none" stroke="#ffffff" stroke-width="1.1" stroke-linejoin="round"/>
<polyline points="272.0,600.0 270.0,590.0" fill="none" stroke="#ffffff" stroke-width="1.1" stroke-linejoin="round"/>
<polyline points="294.0,643.3 306.0,640.7 314.0,642.7 326.0,647.3 339.3,646.0" fill="none" stroke="#ffffff" stroke-width="1.1" stroke-linejoin="round"/>
<polyline points="294.0,643.3 310.0,656.7 314.0,670.0 316.7,676.7 326.0,680.7 339.3,687.3 343.3,690.0" fill="none" stroke="#ffffff" stroke-width="1.1" stroke-linejoin="round"/>
<polyline points="326.0,647.3 326.0,667.3 315.3,670.0" fill="none" stroke="#ffffff" stroke-width="1.1" stroke-linejoin="round"/>
<polyline points="331.3,663.3 347.3,668.7 343.3,678.0 330.0,672.7" fill="none" stroke="#ffffff" stroke-width="1.1" stroke-linejoin="round"/>
<polyline points="344.7,683.3 356.7,690.0 363.3,695.3 379.3,699.3 402.0,703.3 400.7,697.3" fill="none" stroke="#ffffff" stroke-width="1.1" stroke-linejoin="round"/>
<polyline points="358.0,676.7 358.0,688.7" fill="none" stroke="#ffffff" stroke-width="1.1" stroke-linejoin="round"/>
<polyline points="363.3,695.3 358.0,707.3 355.3,710.0" fill="none" stroke="#ffffff" stroke-width="1.1" stroke-linejoin="round"/>
<polyline points="394.0,703.3 390.0,716.7 392.7,726.0" fill="none" stroke="#ffffff" stroke-width="1.1" stroke-linejoin="round"/>
<polyline points="411.3,695.3 414.0,712.7 408.7,723.3 414.0,736.7" fill="none" stroke="#ffffff" stroke-width="1.1" stroke-linejoin="round"/>
<polyline points="414.0,712.7 420.0,715.3" fill="none" stroke="#ffffff" stroke-width="1.1" stroke-linejoin="round"/>
<polyline points="428.0,692.0 429.3,706.7 430.7,709.3" fill="none" stroke="#ffffff" stroke-width="1.1" stroke-linejoin="round"/>
<polyline points="470.7,698.7 481.3,690.7" fill="none" stroke="#ffffff" stroke-width="1.1" stroke-linejoin="round"/>
<polyline points="470.7,698.7 472.0,708.0 478.7,706.7 482.7,710.7" fill="none" stroke="#ffffff" stroke-width="1.1" stroke-linejoin="round"/>
<polyline points="497.3,701.3 504.0,718.7 500.0,724.0 490.7,728.0 486.7,736.0" fill="none" stroke="#ffffff" stroke-width="1.1" stroke-linejoin="round"/>
<polyline points="505.3,722.7 513.3,728.0 518.7,737.3 510.7,741.3 509.3,760.0" fill="none" stroke="#ffffff" stroke-width="1.1" stroke-linejoin="round"/>
<polyline points="524.0,696.0 528.0,704.0 522.7,717.3 522.7,730.7 537.3,733.3 552.0,716.0 561.3,713.3 570.7,702.7 569.3,696.0 557.3,685.3 548.0,666.7 545.3,662.7" fill="none" stroke="#ffffff" stroke-width="1.1" stroke-linejoin="round"/>
<polyline points="541.3,681.3 553.3,693.3 550.7,705.3 558.7,712.0" fill="none" stroke="#ffffff" stroke-width="1.1" stroke-linejoin="round"/>
<polyline points="553.3,645.3 554.7,652.0 561.3,658.7 564.0,677.3 574.7,684.0" fill="none" stroke="#ffffff" stroke-width="1.1" stroke-linejoin="round"/>
<polyline points="561.3,658.7 566.7,640.0" fill="none" stroke="#ffffff" stroke-width="1.1" stroke-linejoin="round"/>
<polyline points="561.3,713.3 570.7,717.3 572.0,732.0 576.0,733.3" fill="none" stroke="#ffffff" stroke-width="1.1" stroke-linejoin="round"/>
<polyline points="168.0,397.3 176.9,400.5 192.9,420.4" fill="none" stroke="#ffffff" stroke-width="1.1" stroke-linejoin="round"/>
<polyline points="192.9,420.4 235.6,395.6 240.9,374.2" fill="none" stroke="#ffffff" stroke-width="1.1" stroke-linejoin="round"/>
<polyline points="192.9,420.4 192.9,467.6" fill="none" stroke="#ffffff" stroke-width="1.1" stroke-linejoin="round"/>
<polyline points="152.9,467.6 199.1,467.6" fill="none" stroke="#ffffff" stroke-width="1.1" stroke-linejoin="round"/>
<polyline points="199.1,467.6 198.2,516.4" fill="none" stroke="#ffffff" stroke-width="1.1" stroke-linejoin="round"/>
<polyline points="152.9,467.6 152.9,482.7 142.2,482.7 136.9,461.3 127.1,465.8 121.8,459.6 121.8,450.7" fill="none" stroke="#ffffff" stroke-width="1.1" stroke-linejoin="round"/>
<polyline points="199.1,467.6 200.0,463.1 214.2,456.9 226.7,450.7" fill="none" stroke="#ffffff" stroke-width="1.1" stroke-linejoin="round"/>
<polyline points="200.0,479.1 212.4,477.3 214.2,470.2 221.3,464.9" fill="none" stroke="#ffffff" stroke-width="1.1" stroke-linejoin="round"/>
<polyline points="200.0,502.2 208.9,496.9 212.4,491.6 221.3,486.2" fill="none" stroke="#ffffff" stroke-width="1.1" stroke-linejoin="round"/>
<polyline points="223.1,475.6 212.4,477.3" fill="none" stroke="#ffffff" stroke-width="1.1" stroke-linejoin="round"/>
<polyline points="73.1,457.8 73.1,463.1 78.4,470.2 83.8,477.3 80.2,482.7 73.1,493.3 73.1,511.1" fill="none" stroke="#ffffff" stroke-width="1.1" stroke-linejoin="round"/>
<polyline points="66.0,484.4 80.2,483.6 90.9,486.2" fill="none" stroke="#ffffff" stroke-width="1.1" stroke-linejoin="round"/>
<polyline points="83.8,477.3 92.7,464.0 99.8,464.9 106.9,478.2 119.3,470.2 128.2,466.7 133.6,466.7 137.1,475.6 144.2,482.7 154.9,491.6 162.0,500.4 167.3,505.8 167.3,511.1" fill="none" stroke="#ffffff" stroke-width="1.1" stroke-linejoin="round"/>
<polyline points="167.3,511.1 133.6,512.9 124.7,532.4 122.9,550.2" fill="none" stroke="#ffffff" stroke-width="1.1" stroke-linejoin="round"/>
<polyline points="105.1,507.6 112.2,511.1 122.9,516.4" fill="none" stroke="#ffffff" stroke-width="1.1" stroke-linejoin="round"/>
<polyline points="506.4,722.8 517.5,736.7 518.9,740.8 510.6,740.8 509.2,747.8 514.7,763.1 528.6,765.8 532.8,781.1 525.8,785.3 528.6,792.2 532.8,797.8 545.3,801.9 549.4,799.2" fill="none" stroke="#ffffff" stroke-width="1.1" stroke-linejoin="round"/>
<polyline points="532.8,781.1 543.9,775.6 552.2,781.1 563.3,775.6 568.9,774.2 576.0,774.2" fill="none" stroke="#ffffff" stroke-width="1.1" stroke-linejoin="round"/>
<polyline points="549.4,799.2 550.8,790.8 563.3,785.3 567.5,775.6 571.7,761.7 576.0,757.5" fill="none" stroke="#ffffff" stroke-width="1.1" stroke-linejoin="round"/>
<polyline points="545.3,801.9 539.7,817.2 535.6,822.8 532.8,842.2" fill="none" stroke="#ffffff" stroke-width="1.1" stroke-linejoin="round"/>
<polyline points="530.0,795.0 521.7,806.1 523.1,814.4 516.1,818.6 502.2,813.1" fill="none" stroke="#ffffff" stroke-width="1.1" stroke-linejoin="round"/>
<polyline points="549.4,799.2 538.3,820.0" fill="none" stroke="#ffffff" stroke-width="1.1" stroke-linejoin="round"/>
<polyline points="563.3,785.3 561.9,811.7 571.7,815.8 571.7,824.2 566.1,831.1 563.3,842.2" fill="none" stroke="#ffffff" stroke-width="1.1" stroke-linejoin="round"/>
<polyline points="496.7,839.4 521.7,835.3 530.0,842.2" fill="none" stroke="#ffffff" stroke-width="1.1" stroke-linejoin="round"/>
<polyline points="539.7,839.4 552.2,833.9 563.3,832.5 571.7,826.9" fill="none" stroke="#ffffff" stroke-width="1.1" stroke-linejoin="round"/>
<polyline points="521.7,720.0 523.1,729.7 536.9,736.7 549.4,720.0" fill="none" stroke="#ffffff" stroke-width="1.1" stroke-linejoin="round"/>
<polyline points="500.8,720.0 491.1,728.3 488.3,725.6 485.6,735.3" fill="none" stroke="#ffffff" stroke-width="1.1" stroke-linejoin="round"/>
<polyline points="568.9,720.0 571.7,732.5 576.0,732.5" fill="none" stroke="#ffffff" stroke-width="1.1" stroke-linejoin="round"/>
<polyline points="233.3,518.9 231.1,531.1 237.8,544.4 231.1,553.3 224.4,560.0" fill="none" stroke="#ffffff" stroke-width="1.1" stroke-linejoin="round"/>
<polyline points="257.8,535.6 260.0,546.7 255.6,560.0 264.4,568.9" fill="none" stroke="#ffffff" stroke-width="1.1" stroke-linejoin="round"/>
<polyline points="257.8,535.6 273.3,531.1 288.9,524.4 302.2,531.1 304.4,546.7 300.0,553.3 308.9,560.0 304.4,568.9 291.1,577.8 277.8,586.7 268.9,595.6" fill="none" stroke="#ffffff" stroke-width="1.1" stroke-linejoin="round"/>
<polyline points="277.8,517.8 288.9,524.4" fill="none" stroke="#ffffff" stroke-width="1.1" stroke-linejoin="round"/>
<polyline points="211.1,524.4 215.6,537.8 211.1,548.9 215.6,560.0" fill="none" stroke="#ffffff" stroke-width="1.1" stroke-linejoin="round"/>
<polyline points="202.2,533.3 193.3,542.2 184.4,540.0" fill="none" stroke="#ffffff" stroke-width="1.1" stroke-linejoin="round"/>
<polyline points="242.2,544.4 251.1,551.1 264.4,551.1 277.8,557.8 282.2,568.9" fill="none" stroke="#ffffff" stroke-width="1.1" stroke-linejoin="round"/>
<polyline points="237.8,564.4 251.1,568.9 260.0,575.6 273.3,577.8" fill="none" stroke="#ffffff" stroke-width="1.1" stroke-linejoin="round"/>
<polyline points="246.7,577.8 255.6,584.4 260.0,595.6 273.3,600.0" fill="none" stroke="#ffffff" stroke-width="1.1" stroke-linejoin="round"/>
<polyline points="282.2,584.4 300.0,591.1 302.2,600.0 286.7,604.4" fill="none" stroke="#ffffff" stroke-width="1.1" stroke-linejoin="round"/>
<polyline points="304.4,546.7 322.2,544.4 335.6,542.2 348.9,540.0" fill="none" stroke="#ffffff" stroke-width="1.1" stroke-linejoin="round"/>
<polyline points="268.9,613.3 277.8,617.8 284.4,626.7" fill="none" stroke="#ffffff" stroke-width="1.1" stroke-linejoin="round"/>
<polyline points="264.4,604.4 268.9,613.3" fill="none" stroke="#ffffff" stroke-width="1.1" stroke-linejoin="round"/>
<polyline points="304.4,604.4 313.3,613.3 326.7,635.6" fill="none" stroke="#ffffff" stroke-width="1.1" stroke-linejoin="round"/>
<polyline points="295.6,640.0 308.9,648.9 322.2,644.4 335.6,648.9 344.4,657.8" fill="none" stroke="#ffffff" stroke-width="1.1" stroke-linejoin="round"/>
<polyline points="306.7,657.8 313.3,671.1" fill="none" stroke="#ffffff" stroke-width="1.1" stroke-linejoin="round"/>
<polyline points="180.0,520.0 191.1,524.4 202.2,520.0 211.1,524.4" fill="none" stroke="#ffffff" stroke-width="1.1" stroke-linejoin="round"/>
<polyline points="184.4,551.1 193.3,546.7 202.2,551.1 206.7,560.0 202.2,568.9" fill="none" stroke="#ffffff" stroke-width="1.1" stroke-linejoin="round"/>
<polyline points="180.0,564.4 188.9,568.9 193.3,577.8" fill="none" stroke="#ffffff" stroke-width="1.1" stroke-linejoin="round"/>
<polyline points="193.3,537.8 197.8,546.7" fill="none" stroke="#ffffff" stroke-width="1.1" stroke-linejoin="round"/>
<polyline points="215.6,577.8 224.4,573.3 233.3,575.6 240.0,582.2" fill="none" stroke="#ffffff" stroke-width="1.1" stroke-linejoin="round"/>
<polyline points="224.4,573.3 226.7,584.4" fill="none" stroke="#ffffff" stroke-width="1.1" stroke-linejoin="round"/>
<polyline points="233.3,575.6 235.6,584.4" fill="none" stroke="#ffffff" stroke-width="1.1" stroke-linejoin="round"/>
<polyline points="484.5,451.0 486.0,461.0" fill="none" stroke="#ffffff" stroke-width="0.9"/>
<polyline points="495.5,451.0 494.0,458.0" fill="none" stroke="#ffffff" stroke-width="0.9"/>
<polyline points="489.0,458.0 505.0,457.0" fill="none" stroke="#ffffff" stroke-width="0.9"/>
<polyline points="490.0,459.0 494.0,467.0" fill="none" stroke="#ffffff" stroke-width="0.9"/>
<polyline points="500.0,459.0 502.0,468.0" fill="none" stroke="#ffffff" stroke-width="0.9"/>
<polyline points="505.0,457.0 509.0,467.0" fill="none" stroke="#ffffff" stroke-width="0.9"/>
<polyline points="506.0,453.0 510.0,459.0 519.0,463.0" fill="none" stroke="#ffffff" stroke-width="0.9"/>
</g>
<polyline points="437.5,583.5 430.0,585.0 422.5,591.5 414.5,608.5 399.0,608.5 389.0,620.0 384.5,630.5 376.0,636.5 381.5,639.5 394.0,641.2 412.5,647.5 421.5,646.5 430.5,641.0 443.5,635.0 453.0,634.0 463.5,626.0 468.5,636.5" fill="none" stroke="#222222" stroke-width="2.5" stroke-linejoin="round" stroke-linecap="butt"/>
<polyline points="432.5,591.5 436.0,586.5 437.5,583.5" fill="none" stroke="#222222" stroke-width="2.5" stroke-linejoin="round" stroke-linecap="butt"/>
<polyline points="453.0,634.0 453.0,644.5 458.5,649.5" fill="none" stroke="#222222" stroke-width="2.5" stroke-linejoin="round" stroke-linecap="butt"/>
<polyline points="204.9,629.2 226.4,624.3 257.2,613.3 285.6,608.3 312.2,608.3 336.4,611.0 346.1,618.2 366.3,624.3 378.3,628.3 390.0,635.0 416.7,641.7 430.8,640.8 448.3,636.0 453.0,634.0" fill="none" stroke="#e41a1c" stroke-width="2.5" stroke-linejoin="round" stroke-linecap="butt"/>
<polyline points="358.3,576.7 359.2,568.3 358.3,560.0 364.7,552.5 370.8,548.3 379.5,537.5 391.7,529.7 407.5,532.2 411.7,535.8 427.5,542.5 434.2,546.7 437.5,560.0 455.0,567.5 468.5,588.5 463.5,626.0 460.0,630.0 455.0,624.5" fill="none" stroke="#4daf4a" stroke-width="2.5" stroke-linejoin="round" stroke-linecap="butt"/>
<polyline points="172.5,624.3 178.3,608.3 180.2,590.3 214.1,568.3 280.1,569.8 307.6,582.6 333.3,585.2 352.5,587.6 376.5,593.2 399.0,595.3 414.5,608.5 424.0,622.0 430.5,629.5 445.0,631.0 448.0,637.0 452.0,643.0 453.0,629.0" fill="none" stroke="#377eb8" stroke-width="2.5" stroke-linejoin="round" stroke-linecap="butt"/>
<polyline points="444.5,646.5 452.0,648.0 458.0,650.0" fill="none" stroke="#377eb8" stroke-width="2.5" stroke-linejoin="round" stroke-linecap="butt"/>
<polyline points="202.2,636.2 354.3,636.2 400.0,637.5 448.0,639.0 453.0,634.0" fill="none" stroke="#7f7f7f" stroke-width="2.5" stroke-linejoin="round" stroke-linecap="butt"/>
<circle cx="437.50" cy="583.50" r="3.4" fill="#222222" stroke="none" stroke-width="0"/>
<circle cx="432.50" cy="591.50" r="3.4" fill="#222222" stroke="none" stroke-width="0"/>
<circle cx="399.00" cy="608.50" r="3.4" fill="#222222" stroke="none" stroke-width="0"/>
<circle cx="414.50" cy="608.50" r="3.4" fill="#222222" stroke="none" stroke-width="0"/>
<circle cx="417.50" cy="641.50" r="3.4" fill="#222222" stroke="none" stroke-width="0"/>
<circle cx="412.50" cy="647.50" r="3.4" fill="#222222" stroke="none" stroke-width="0"/>
<circle cx="381.50" cy="639.50" r="3.4" fill="#222222" stroke="none" stroke-width="0"/>
<circle cx="463.50" cy="626.00" r="3.4" fill="#222222" stroke="none" stroke-width="0"/>
<circle cx="468.50" cy="636.50" r="3.4" fill="#222222" stroke="none" stroke-width="0"/>
<circle cx="453.00" cy="644.50" r="3.4" fill="#222222" stroke="none" stroke-width="0"/>
<circle cx="214.10" cy="568.30" r="3.4" fill="#222222" stroke="none" stroke-width="0"/>
<circle cx="333.30" cy="585.20" r="3.4" fill="#222222" stroke="none" stroke-width="0"/>
<circle cx="285.60" cy="608.30" r="3.4" fill="#222222" stroke="none" stroke-width="0"/>
<circle cx="366.30" cy="624.30" r="3.4" fill="#222222" stroke="none" stroke-width="0"/>
<circle cx="364.70" cy="552.50" r="3.4" fill="#222222" stroke="none" stroke-width="0"/>
<circle cx="407.50" cy="532.20" r="3.4" fill="#222222" stroke="none" stroke-width="0"/>
<circle cx="437.50" cy="560.00" r="3.4" fill="#222222" stroke="none" stroke-width="0"/>
<circle cx="422.50" cy="591.50" r="3.0" fill="#ffffff" stroke="#222222" stroke-width="1.2"/>
<circle cx="384.50" cy="630.50" r="3.0" fill="#ffffff" stroke="#222222" stroke-width="1.2"/>
<circle cx="392.50" cy="636.00" r="3.0" fill="#ffffff" stroke="#222222" stroke-width="1.2"/>
<circle cx="394.00" cy="641.20" r="3.0" fill="#ffffff" stroke="#222222" stroke-width="1.2"/>
<circle cx="430.50" cy="641.00" r="3.0" fill="#ffffff" stroke="#222222" stroke-width="1.2"/>
<circle cx="460.50" cy="631.50" r="3.0" fill="#ffffff" stroke="#222222" stroke-width="1.2"/>
<circle cx="458.50" cy="636.50" r="3.0" fill="#ffffff" stroke="#222222" stroke-width="1.2"/>
<circle cx="458.50" cy="649.50" r="3.0" fill="#ffffff" stroke="#222222" stroke-width="1.2"/>
<circle cx="376.50" cy="593.20" r="3.0" fill="#ffffff" stroke="#222222" stroke-width="1.2"/>
<circle cx="430.50" cy="629.50" r="3.0" fill="#ffffff" stroke="#222222" stroke-width="1.2"/>
<circle cx="468.50" cy="588.50" r="3.0" fill="#ffffff" stroke="#222222" stroke-width="1.2"/>
<circle cx="178.30" cy="608.30" r="3.0" fill="#ffffff" stroke="#222222" stroke-width="1.2"/>
<circle cx="280.10" cy="569.80" r="3.0" fill="#ffffff" stroke="#222222" stroke-width="1.2"/>
<circle cx="226.40" cy="624.30" r="3.0" fill="#ffffff" stroke="#222222" stroke-width="1.2"/>
<circle cx="336.40" cy="611.00" r="3.0" fill="#ffffff" stroke="#222222" stroke-width="1.2"/>
<circle cx="359.20" cy="568.30" r="3.0" fill="#ffffff" stroke="#222222" stroke-width="1.2"/>
<circle cx="379.50" cy="537.50" r="3.0" fill="#ffffff" stroke="#222222" stroke-width="1.2"/>
<circle cx="427.50" cy="542.50" r="3.0" fill="#ffffff" stroke="#222222" stroke-width="1.2"/>
<circle cx="455.00" cy="624.50" r="3.5" fill="#4daf4a" stroke="none" stroke-width="0"/>
<circle cx="453.00" cy="629.00" r="3.5" fill="#377eb8" stroke="none" stroke-width="0"/>
<circle cx="453.00" cy="634.00" r="3.8" fill="#7f7f7f" stroke="none" stroke-width="0"/>
<rect x="66.5" y="335.5" width="509" height="509" fill="none" stroke="#262626" stroke-width="1.25"/>
<line x1="77.00" y1="349.30" x2="100.00" y2="349.30" stroke="#222222" stroke-width="3"/>
<text x="114.30" y="353.90" font-size="13" text-anchor="start" textLength="33.3" lengthAdjust="spacingAndGlyphs" fill="#262626">BEST</text>
<line x1="77.00" y1="364.80" x2="100.00" y2="364.80" stroke="#e41a1c" stroke-width="3"/>
<text x="114.30" y="369.40" font-size="13" text-anchor="start" textLength="25.6" lengthAdjust="spacingAndGlyphs" fill="#262626">GFS</text>
<line x1="77.00" y1="380.30" x2="100.00" y2="380.30" stroke="#4daf4a" stroke-width="3"/>
<text x="114.30" y="384.90" font-size="13" text-anchor="start" textLength="34.8" lengthAdjust="spacingAndGlyphs" fill="#262626">GFDL</text>
<line x1="77.00" y1="395.80" x2="100.00" y2="395.80" stroke="#377eb8" stroke-width="3"/>
<text x="114.30" y="400.40" font-size="13" text-anchor="start" textLength="39.2" lengthAdjust="spacingAndGlyphs" fill="#262626">HWRF</text>
<line x1="77.00" y1="411.30" x2="100.00" y2="411.30" stroke="#7f7f7f" stroke-width="3"/>
<text x="114.30" y="415.90" font-size="13" text-anchor="start" textLength="34.0" lengthAdjust="spacingAndGlyphs" fill="#262626">OFCL</text>
<text x="569.40" y="354.60" font-size="16" text-anchor="end" font-weight="bold" textLength="51.4" lengthAdjust="spacingAndGlyphs" fill="#262626">Track</text>
<text x="177.90" y="870.50" font-size="13" text-anchor="middle" textLength="35.9" lengthAdjust="spacingAndGlyphs" fill="#000000">90°W</text>
<text x="305.30" y="870.50" font-size="13" text-anchor="middle" textLength="35.9" lengthAdjust="spacingAndGlyphs" fill="#000000">85°W</text>
<text x="432.60" y="870.50" font-size="13" text-anchor="middle" textLength="35.9" lengthAdjust="spacingAndGlyphs" fill="#000000">80°W</text>
<text x="560.00" y="870.50" font-size="13" text-anchor="middle" textLength="35.9" lengthAdjust="spacingAndGlyphs" fill="#000000">75°W</text>
<text x="60.00" y="416.35" font-size="13" text-anchor="end" textLength="32.8" lengthAdjust="spacingAndGlyphs" fill="#000000">20°N</text>
<text x="60.00" y="543.10" font-size="13" text-anchor="end" textLength="32.8" lengthAdjust="spacingAndGlyphs" fill="#000000">15°N</text>
<text x="60.00" y="669.90" font-size="13" text-anchor="end" textLength="32.8" lengthAdjust="spacingAndGlyphs" fill="#000000">10°N</text>
<text x="60.00" y="796.90" font-size="13" text-anchor="end" textLength="24.5" lengthAdjust="spacingAndGlyphs" fill="#000000">5°N</text>
<g>
<ellipse cx="15.0" cy="882.2" rx="9.9" ry="12.2" fill="#1d3f8e"/>
<ellipse cx="17.5" cy="882.3" rx="7.2" ry="8.6" fill="#5a7aa0"/>
<path d="M12.5,876 Q15,874.5 17,876.5 Q15,880 13,884 Q11.5,881 12.5,876Z" fill="#8fa08a"/>
<path d="M18,878 Q22,876 23.5,882 Q22,888 18,889 Q17,884 18,878Z" fill="#3a5aa8"/>
<rect x="27.0" y="870.3" width="4.7" height="24.0" fill="#1f4c9c"/>
<path d="M36.3,870.3 L45,870.3 Q50.5,870.8 50.5,876.2 Q50.3,881 45.5,882 L52.7,894.3 L47.2,894.3 L41,882.5 L40.8,882.5 L40.8,894.3 L36.3,894.3Z" fill="#1f4f9e"/>
<path d="M40.8,873 L44.5,873 Q46.3,873.5 46.3,876.3 Q46.2,879.5 44.5,880 L40.8,880Z" fill="#ffffff"/>
<path d="M40.8,873 L44.5,873 Q46.3,873.5 46.3,876.3 Q46.2,879.5 44.5,880 L40.8,880Z" fill="#2e64ad" opacity="0.55"/>
<path d="M50.7,894.3 L62.7,870.3 L74.0,894.3Z" fill="#1f4796"/>
<path d="M58,891 L64,882 L66.5,884 L63,892Z" fill="#e6e8ee"/>
<circle cx="89.8" cy="882.9" r="14.7" fill="#2b8fd6"/>
<path d="M75.2,884.5 L79.7,882.9 L85.2,885.5 L92.6,881.3 L98,884.5 L102.7,886.6 L103.2,888.5 A14.7,14.7 0 0 1 76,888.5Z" fill="#3b3fa0"/>
<path d="M78,891.5 Q90,888.5 102.5,889.5" stroke="#dfe3f5" stroke-width="0.8" fill="none"/>
<ellipse cx="83" cy="878.8" rx="3.0" ry="1.1" fill="#eef3fb"/>
<ellipse cx="93.5" cy="876.5" rx="3.8" ry="1.3" fill="#eef3fb"/>
</g>
</svg></body></html>
